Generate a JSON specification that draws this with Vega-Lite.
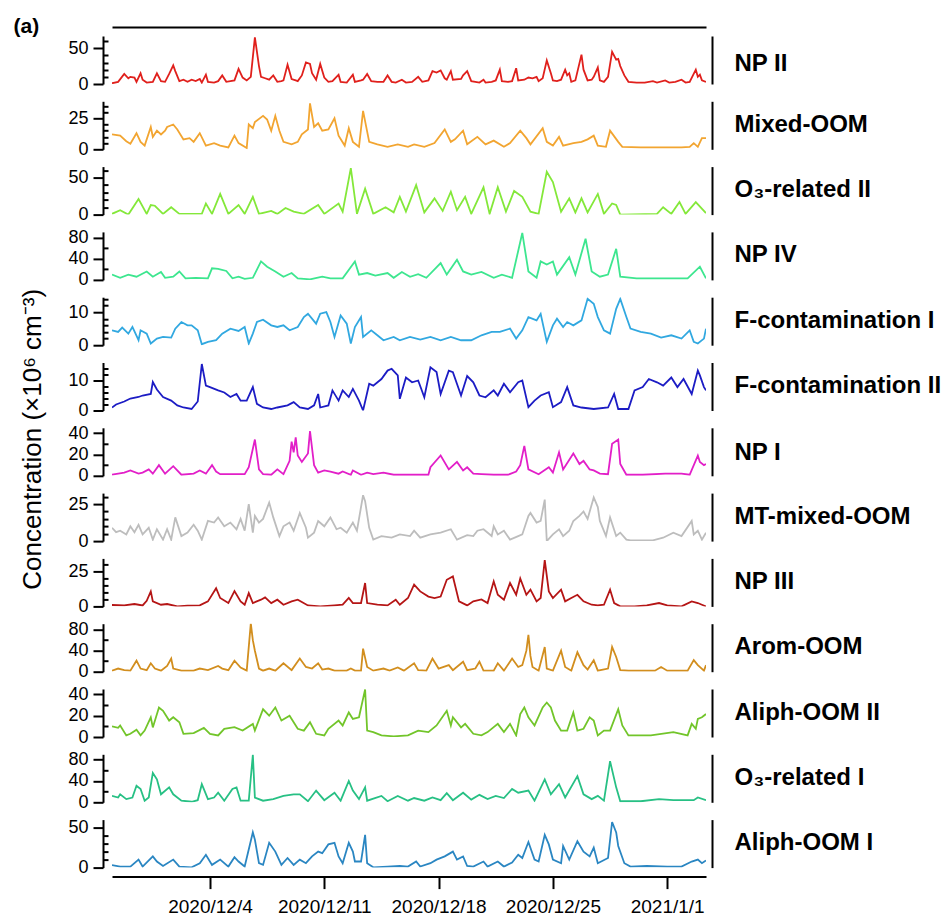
{
"$schema": "https://vega.github.io/schema/vega-lite/v6.json",
"background": "white",
"padding": {"left": 13, "top": 15, "right": 0, "bottom": 0},
"config": {"font": "Liberation Sans", "view": {"stroke": null},
 "axis": {"grid": false, "domainColor": "black", "tickColor": "black", "labelColor": "black", "titleColor": "black", "domainWidth": 2, "tickWidth": 2, "labelFont": "Liberation Sans", "titleFont": "Liberation Sans", "labelOverlap": false, "labelFlush": false}},
"spacing": 17.3,
"bounds": "flush",
"data": {"values": [
{"s":"np2","t":"2020-11-28T00:00","v":1},{"s":"np2","t":"2020-11-28T09:00","v":3},{"s":"np2","t":"2020-11-28T18:00","v":14},{"s":"np2","t":"2020-11-29T00:00","v":8},{"s":"np2","t":"2020-11-29T03:00","v":10},{"s":"np2","t":"2020-11-29T09:00","v":9},{"s":"np2","t":"2020-11-29T12:00","v":3},{"s":"np2","t":"2020-11-29T18:00","v":15},{"s":"np2","t":"2020-11-29T21:00","v":6},{"s":"np2","t":"2020-11-30T03:00","v":2},{"s":"np2","t":"2020-11-30T12:00","v":3},{"s":"np2","t":"2020-11-30T18:00","v":15},{"s":"np2","t":"2020-12-01T00:00","v":4},{"s":"np2","t":"2020-12-01T06:00","v":3},{"s":"np2","t":"2020-12-01T12:00","v":14},{"s":"np2","t":"2020-12-01T18:00","v":26},{"s":"np2","t":"2020-12-01T21:00","v":18},{"s":"np2","t":"2020-12-02T03:00","v":4},{"s":"np2","t":"2020-12-02T09:00","v":6},{"s":"np2","t":"2020-12-02T15:00","v":3},{"s":"np2","t":"2020-12-02T21:00","v":6},{"s":"np2","t":"2020-12-03T03:00","v":4},{"s":"np2","t":"2020-12-03T09:00","v":7},{"s":"np2","t":"2020-12-03T12:00","v":2},{"s":"np2","t":"2020-12-03T18:00","v":13},{"s":"np2","t":"2020-12-03T21:00","v":3},{"s":"np2","t":"2020-12-04T06:00","v":2},{"s":"np2","t":"2020-12-04T12:00","v":4},{"s":"np2","t":"2020-12-04T18:00","v":12},{"s":"np2","t":"2020-12-05T00:00","v":3},{"s":"np2","t":"2020-12-05T06:00","v":4},{"s":"np2","t":"2020-12-05T12:00","v":5},{"s":"np2","t":"2020-12-05T18:00","v":21},{"s":"np2","t":"2020-12-06T00:00","v":9},{"s":"np2","t":"2020-12-06T06:00","v":5},{"s":"np2","t":"2020-12-06T12:00","v":10},{"s":"np2","t":"2020-12-06T18:00","v":65},{"s":"np2","t":"2020-12-07T00:00","v":25},{"s":"np2","t":"2020-12-07T03:00","v":10},{"s":"np2","t":"2020-12-07T09:00","v":8},{"s":"np2","t":"2020-12-07T15:00","v":6},{"s":"np2","t":"2020-12-07T21:00","v":12},{"s":"np2","t":"2020-12-08T03:00","v":3},{"s":"np2","t":"2020-12-08T09:00","v":4},{"s":"np2","t":"2020-12-08T12:00","v":5},{"s":"np2","t":"2020-12-08T18:00","v":27},{"s":"np2","t":"2020-12-09T00:00","v":7},{"s":"np2","t":"2020-12-09T06:00","v":5},{"s":"np2","t":"2020-12-09T09:00","v":4},{"s":"np2","t":"2020-12-09T15:00","v":12},{"s":"np2","t":"2020-12-09T21:00","v":30},{"s":"np2","t":"2020-12-10T03:00","v":28},{"s":"np2","t":"2020-12-10T06:00","v":15},{"s":"np2","t":"2020-12-10T12:00","v":6},{"s":"np2","t":"2020-12-10T18:00","v":28},{"s":"np2","t":"2020-12-11T00:00","v":9},{"s":"np2","t":"2020-12-11T06:00","v":3},{"s":"np2","t":"2020-12-11T12:00","v":4},{"s":"np2","t":"2020-12-11T21:00","v":13},{"s":"np2","t":"2020-12-12T00:00","v":3},{"s":"np2","t":"2020-12-12T09:00","v":2},{"s":"np2","t":"2020-12-12T18:00","v":13},{"s":"np2","t":"2020-12-12T21:00","v":3},{"s":"np2","t":"2020-12-13T06:00","v":5},{"s":"np2","t":"2020-12-13T09:00","v":6},{"s":"np2","t":"2020-12-13T15:00","v":14},{"s":"np2","t":"2020-12-13T21:00","v":4},{"s":"np2","t":"2020-12-14T06:00","v":3},{"s":"np2","t":"2020-12-14T15:00","v":3},{"s":"np2","t":"2020-12-14T21:00","v":12},{"s":"np2","t":"2020-12-15T03:00","v":3},{"s":"np2","t":"2020-12-15T09:00","v":2},{"s":"np2","t":"2020-12-15T18:00","v":6},{"s":"np2","t":"2020-12-16T00:00","v":2},{"s":"np2","t":"2020-12-16T09:00","v":3},{"s":"np2","t":"2020-12-16T18:00","v":10},{"s":"np2","t":"2020-12-17T00:00","v":3},{"s":"np2","t":"2020-12-17T09:00","v":5},{"s":"np2","t":"2020-12-17T15:00","v":18},{"s":"np2","t":"2020-12-17T21:00","v":16},{"s":"np2","t":"2020-12-18T03:00","v":19},{"s":"np2","t":"2020-12-18T09:00","v":8},{"s":"np2","t":"2020-12-18T12:00","v":6},{"s":"np2","t":"2020-12-18T18:00","v":18},{"s":"np2","t":"2020-12-18T21:00","v":6},{"s":"np2","t":"2020-12-19T09:00","v":7},{"s":"np2","t":"2020-12-19T12:00","v":12},{"s":"np2","t":"2020-12-19T18:00","v":18},{"s":"np2","t":"2020-12-20T00:00","v":4},{"s":"np2","t":"2020-12-20T06:00","v":3},{"s":"np2","t":"2020-12-20T12:00","v":2},{"s":"np2","t":"2020-12-20T18:00","v":6},{"s":"np2","t":"2020-12-20T21:00","v":2},{"s":"np2","t":"2020-12-21T06:00","v":3},{"s":"np2","t":"2020-12-21T12:00","v":5},{"s":"np2","t":"2020-12-21T18:00","v":20},{"s":"np2","t":"2020-12-21T21:00","v":4},{"s":"np2","t":"2020-12-22T06:00","v":3},{"s":"np2","t":"2020-12-22T12:00","v":4},{"s":"np2","t":"2020-12-22T18:00","v":22},{"s":"np2","t":"2020-12-22T21:00","v":5},{"s":"np2","t":"2020-12-23T06:00","v":6},{"s":"np2","t":"2020-12-23T12:00","v":9},{"s":"np2","t":"2020-12-23T18:00","v":8},{"s":"np2","t":"2020-12-24T00:00","v":10},{"s":"np2","t":"2020-12-24T03:00","v":4},{"s":"np2","t":"2020-12-24T09:00","v":8},{"s":"np2","t":"2020-12-24T15:00","v":33},{"s":"np2","t":"2020-12-24T21:00","v":15},{"s":"np2","t":"2020-12-25T00:00","v":5},{"s":"np2","t":"2020-12-25T06:00","v":4},{"s":"np2","t":"2020-12-25T12:00","v":6},{"s":"np2","t":"2020-12-25T18:00","v":20},{"s":"np2","t":"2020-12-25T21:00","v":12},{"s":"np2","t":"2020-12-26T00:00","v":15},{"s":"np2","t":"2020-12-26T03:00","v":3},{"s":"np2","t":"2020-12-26T09:00","v":5},{"s":"np2","t":"2020-12-26T18:00","v":41},{"s":"np2","t":"2020-12-26T21:00","v":20},{"s":"np2","t":"2020-12-27T03:00","v":5},{"s":"np2","t":"2020-12-27T09:00","v":6},{"s":"np2","t":"2020-12-27T12:00","v":10},{"s":"np2","t":"2020-12-27T18:00","v":23},{"s":"np2","t":"2020-12-27T21:00","v":5},{"s":"np2","t":"2020-12-28T03:00","v":3},{"s":"np2","t":"2020-12-28T09:00","v":10},{"s":"np2","t":"2020-12-28T15:00","v":45},{"s":"np2","t":"2020-12-28T21:00","v":34},{"s":"np2","t":"2020-12-29T00:00","v":35},{"s":"np2","t":"2020-12-29T03:00","v":25},{"s":"np2","t":"2020-12-29T09:00","v":12},{"s":"np2","t":"2020-12-29T15:00","v":3},{"s":"np2","t":"2020-12-30T03:00","v":2},{"s":"np2","t":"2020-12-30T15:00","v":2},{"s":"np2","t":"2020-12-31T03:00","v":4},{"s":"np2","t":"2020-12-31T09:00","v":2},{"s":"np2","t":"2020-12-31T21:00","v":5},{"s":"np2","t":"2021-01-01T03:00","v":2},{"s":"np2","t":"2021-01-01T12:00","v":3},{"s":"np2","t":"2021-01-01T21:00","v":6},{"s":"np2","t":"2021-01-02T03:00","v":2},{"s":"np2","t":"2021-01-02T09:00","v":3},{"s":"np2","t":"2021-01-02T18:00","v":20},{"s":"np2","t":"2021-01-02T21:00","v":10},{"s":"np2","t":"2021-01-03T00:00","v":13},{"s":"np2","t":"2021-01-03T03:00","v":5},{"s":"np2","t":"2021-01-03T09:00","v":3},
{"s":"mix","t":"2020-11-28T00:00","v":12},{"s":"mix","t":"2020-11-28T12:00","v":11},{"s":"mix","t":"2020-11-28T21:00","v":6.5},{"s":"mix","t":"2020-11-29T03:00","v":4.5},{"s":"mix","t":"2020-11-29T12:00","v":13},{"s":"mix","t":"2020-11-29T18:00","v":6},{"s":"mix","t":"2020-11-30T00:00","v":3},{"s":"mix","t":"2020-11-30T09:00","v":18},{"s":"mix","t":"2020-11-30T12:00","v":10},{"s":"mix","t":"2020-11-30T18:00","v":15},{"s":"mix","t":"2020-12-01T00:00","v":12},{"s":"mix","t":"2020-12-01T06:00","v":15},{"s":"mix","t":"2020-12-01T09:00","v":18},{"s":"mix","t":"2020-12-01T18:00","v":20},{"s":"mix","t":"2020-12-02T00:00","v":16},{"s":"mix","t":"2020-12-02T09:00","v":8},{"s":"mix","t":"2020-12-02T18:00","v":9},{"s":"mix","t":"2020-12-03T00:00","v":6},{"s":"mix","t":"2020-12-03T09:00","v":13},{"s":"mix","t":"2020-12-03T18:00","v":3},{"s":"mix","t":"2020-12-04T06:00","v":5},{"s":"mix","t":"2020-12-04T15:00","v":3},{"s":"mix","t":"2020-12-05T03:00","v":1.5},{"s":"mix","t":"2020-12-05T12:00","v":11},{"s":"mix","t":"2020-12-05T18:00","v":5},{"s":"mix","t":"2020-12-06T06:00","v":1},{"s":"mix","t":"2020-12-06T09:00","v":20},{"s":"mix","t":"2020-12-06T15:00","v":17},{"s":"mix","t":"2020-12-06T18:00","v":22},{"s":"mix","t":"2020-12-07T06:00","v":27},{"s":"mix","t":"2020-12-07T12:00","v":24},{"s":"mix","t":"2020-12-07T18:00","v":15},{"s":"mix","t":"2020-12-08T00:00","v":27},{"s":"mix","t":"2020-12-08T06:00","v":15},{"s":"mix","t":"2020-12-08T12:00","v":6},{"s":"mix","t":"2020-12-09T00:00","v":4},{"s":"mix","t":"2020-12-09T09:00","v":6},{"s":"mix","t":"2020-12-09T15:00","v":12},{"s":"mix","t":"2020-12-10T00:00","v":16},{"s":"mix","t":"2020-12-10T03:00","v":37},{"s":"mix","t":"2020-12-10T09:00","v":18},{"s":"mix","t":"2020-12-10T15:00","v":21},{"s":"mix","t":"2020-12-10T21:00","v":15},{"s":"mix","t":"2020-12-11T06:00","v":16},{"s":"mix","t":"2020-12-11T15:00","v":25},{"s":"mix","t":"2020-12-11T21:00","v":11},{"s":"mix","t":"2020-12-12T06:00","v":3},{"s":"mix","t":"2020-12-12T12:00","v":17},{"s":"mix","t":"2020-12-12T18:00","v":6},{"s":"mix","t":"2020-12-13T03:00","v":2},{"s":"mix","t":"2020-12-13T09:00","v":31},{"s":"mix","t":"2020-12-13T18:00","v":6},{"s":"mix","t":"2020-12-14T06:00","v":4},{"s":"mix","t":"2020-12-14T21:00","v":2},{"s":"mix","t":"2020-12-15T12:00","v":4},{"s":"mix","t":"2020-12-16T03:00","v":2},{"s":"mix","t":"2020-12-16T12:00","v":4},{"s":"mix","t":"2020-12-17T03:00","v":2},{"s":"mix","t":"2020-12-17T18:00","v":5},{"s":"mix","t":"2020-12-18T09:00","v":16},{"s":"mix","t":"2020-12-18T18:00","v":6},{"s":"mix","t":"2020-12-19T00:00","v":8},{"s":"mix","t":"2020-12-19T12:00","v":15},{"s":"mix","t":"2020-12-19T18:00","v":4},{"s":"mix","t":"2020-12-20T09:00","v":10},{"s":"mix","t":"2020-12-20T21:00","v":4},{"s":"mix","t":"2020-12-21T09:00","v":7},{"s":"mix","t":"2020-12-22T00:00","v":2},{"s":"mix","t":"2020-12-22T09:00","v":5},{"s":"mix","t":"2020-12-23T00:00","v":15},{"s":"mix","t":"2020-12-23T09:00","v":9},{"s":"mix","t":"2020-12-23T15:00","v":4},{"s":"mix","t":"2020-12-24T09:00","v":17},{"s":"mix","t":"2020-12-24T15:00","v":6},{"s":"mix","t":"2020-12-25T00:00","v":3},{"s":"mix","t":"2020-12-25T09:00","v":10},{"s":"mix","t":"2020-12-25T15:00","v":3},{"s":"mix","t":"2020-12-26T06:00","v":5},{"s":"mix","t":"2020-12-26T18:00","v":6},{"s":"mix","t":"2020-12-27T03:00","v":8},{"s":"mix","t":"2020-12-27T12:00","v":11},{"s":"mix","t":"2020-12-27T18:00","v":3},{"s":"mix","t":"2020-12-28T06:00","v":2},{"s":"mix","t":"2020-12-28T12:00","v":15},{"s":"mix","t":"2020-12-29T00:00","v":6},{"s":"mix","t":"2020-12-29T06:00","v":2},{"s":"mix","t":"2020-12-30T09:00","v":1.5},{"s":"mix","t":"2020-12-31T15:00","v":1.5},{"s":"mix","t":"2021-01-01T21:00","v":1.5},{"s":"mix","t":"2021-01-02T09:00","v":2},{"s":"mix","t":"2021-01-02T15:00","v":5},{"s":"mix","t":"2021-01-02T21:00","v":2},{"s":"mix","t":"2021-01-03T03:00","v":9},{"s":"mix","t":"2021-01-03T09:00","v":9},
{"s":"o3b","t":"2020-11-28T00:00","v":1},{"s":"o3b","t":"2020-11-28T12:00","v":6},{"s":"o3b","t":"2020-11-29T00:00","v":0},{"s":"o3b","t":"2020-11-29T15:00","v":21},{"s":"o3b","t":"2020-11-30T03:00","v":1},{"s":"o3b","t":"2020-11-30T09:00","v":13},{"s":"o3b","t":"2020-11-30T15:00","v":12},{"s":"o3b","t":"2020-12-01T03:00","v":1},{"s":"o3b","t":"2020-12-01T15:00","v":10},{"s":"o3b","t":"2020-12-02T03:00","v":1},{"s":"o3b","t":"2020-12-03T12:00","v":1},{"s":"o3b","t":"2020-12-03T18:00","v":15},{"s":"o3b","t":"2020-12-04T03:00","v":1},{"s":"o3b","t":"2020-12-04T15:00","v":28},{"s":"o3b","t":"2020-12-05T03:00","v":1},{"s":"o3b","t":"2020-12-05T18:00","v":13},{"s":"o3b","t":"2020-12-06T03:00","v":1},{"s":"o3b","t":"2020-12-06T15:00","v":24},{"s":"o3b","t":"2020-12-07T00:00","v":1},{"s":"o3b","t":"2020-12-07T18:00","v":5},{"s":"o3b","t":"2020-12-08T03:00","v":1},{"s":"o3b","t":"2020-12-08T15:00","v":9},{"s":"o3b","t":"2020-12-09T03:00","v":4},{"s":"o3b","t":"2020-12-09T18:00","v":1},{"s":"o3b","t":"2020-12-10T15:00","v":13},{"s":"o3b","t":"2020-12-11T00:00","v":1},{"s":"o3b","t":"2020-12-11T21:00","v":15},{"s":"o3b","t":"2020-12-12T03:00","v":4},{"s":"o3b","t":"2020-12-12T15:00","v":63},{"s":"o3b","t":"2020-12-13T00:00","v":1},{"s":"o3b","t":"2020-12-13T12:00","v":35},{"s":"o3b","t":"2020-12-14T00:00","v":1},{"s":"o3b","t":"2020-12-14T18:00","v":10},{"s":"o3b","t":"2020-12-15T06:00","v":3},{"s":"o3b","t":"2020-12-15T15:00","v":24},{"s":"o3b","t":"2020-12-16T00:00","v":4},{"s":"o3b","t":"2020-12-16T15:00","v":40},{"s":"o3b","t":"2020-12-17T03:00","v":3},{"s":"o3b","t":"2020-12-17T18:00","v":22},{"s":"o3b","t":"2020-12-18T06:00","v":5},{"s":"o3b","t":"2020-12-18T18:00","v":31},{"s":"o3b","t":"2020-12-19T03:00","v":6},{"s":"o3b","t":"2020-12-19T15:00","v":24},{"s":"o3b","t":"2020-12-20T00:00","v":1},{"s":"o3b","t":"2020-12-20T18:00","v":37},{"s":"o3b","t":"2020-12-21T03:00","v":1},{"s":"o3b","t":"2020-12-21T15:00","v":37},{"s":"o3b","t":"2020-12-22T03:00","v":4},{"s":"o3b","t":"2020-12-22T15:00","v":32},{"s":"o3b","t":"2020-12-23T03:00","v":24},{"s":"o3b","t":"2020-12-23T15:00","v":4},{"s":"o3b","t":"2020-12-24T03:00","v":1},{"s":"o3b","t":"2020-12-24T15:00","v":58},{"s":"o3b","t":"2020-12-25T00:00","v":44},{"s":"o3b","t":"2020-12-25T12:00","v":4},{"s":"o3b","t":"2020-12-26T00:00","v":22},{"s":"o3b","t":"2020-12-26T09:00","v":3},{"s":"o3b","t":"2020-12-26T18:00","v":22},{"s":"o3b","t":"2020-12-27T03:00","v":3},{"s":"o3b","t":"2020-12-27T18:00","v":28},{"s":"o3b","t":"2020-12-28T03:00","v":1},{"s":"o3b","t":"2020-12-28T15:00","v":15},{"s":"o3b","t":"2020-12-28T21:00","v":13},{"s":"o3b","t":"2020-12-29T03:00","v":0},{"s":"o3b","t":"2020-12-31T09:00","v":1},{"s":"o3b","t":"2020-12-31T18:00","v":10},{"s":"o3b","t":"2021-01-01T06:00","v":1},{"s":"o3b","t":"2021-01-01T18:00","v":17},{"s":"o3b","t":"2021-01-02T03:00","v":1},{"s":"o3b","t":"2021-01-02T18:00","v":17},{"s":"o3b","t":"2021-01-03T09:00","v":2},
{"s":"np4","t":"2020-11-28T00:00","v":10},{"s":"np4","t":"2020-11-28T12:00","v":4},{"s":"np4","t":"2020-11-29T00:00","v":10},{"s":"np4","t":"2020-11-29T12:00","v":6},{"s":"np4","t":"2020-11-30T03:00","v":16},{"s":"np4","t":"2020-11-30T12:00","v":6},{"s":"np4","t":"2020-12-01T00:00","v":15},{"s":"np4","t":"2020-12-01T06:00","v":4},{"s":"np4","t":"2020-12-01T18:00","v":6},{"s":"np4","t":"2020-12-02T03:00","v":16},{"s":"np4","t":"2020-12-02T12:00","v":3},{"s":"np4","t":"2020-12-03T03:00","v":4},{"s":"np4","t":"2020-12-03T21:00","v":3},{"s":"np4","t":"2020-12-04T03:00","v":22},{"s":"np4","t":"2020-12-04T12:00","v":21},{"s":"np4","t":"2020-12-05T00:00","v":17},{"s":"np4","t":"2020-12-05T09:00","v":3},{"s":"np4","t":"2020-12-05T18:00","v":6},{"s":"np4","t":"2020-12-06T03:00","v":2},{"s":"np4","t":"2020-12-06T15:00","v":4},{"s":"np4","t":"2020-12-07T03:00","v":35},{"s":"np4","t":"2020-12-07T12:00","v":25},{"s":"np4","t":"2020-12-08T00:00","v":16},{"s":"np4","t":"2020-12-08T12:00","v":6},{"s":"np4","t":"2020-12-09T00:00","v":13},{"s":"np4","t":"2020-12-09T09:00","v":3},{"s":"np4","t":"2020-12-10T03:00","v":1},{"s":"np4","t":"2020-12-10T21:00","v":6},{"s":"np4","t":"2020-12-11T09:00","v":3},{"s":"np4","t":"2020-12-12T03:00","v":3},{"s":"np4","t":"2020-12-12T21:00","v":35},{"s":"np4","t":"2020-12-13T03:00","v":10},{"s":"np4","t":"2020-12-13T15:00","v":13},{"s":"np4","t":"2020-12-14T03:00","v":8},{"s":"np4","t":"2020-12-14T21:00","v":13},{"s":"np4","t":"2020-12-15T06:00","v":4},{"s":"np4","t":"2020-12-15T18:00","v":15},{"s":"np4","t":"2020-12-16T06:00","v":6},{"s":"np4","t":"2020-12-16T18:00","v":11},{"s":"np4","t":"2020-12-17T06:00","v":4},{"s":"np4","t":"2020-12-18T03:00","v":32},{"s":"np4","t":"2020-12-18T12:00","v":10},{"s":"np4","t":"2020-12-19T03:00","v":38},{"s":"np4","t":"2020-12-19T12:00","v":16},{"s":"np4","t":"2020-12-20T00:00","v":10},{"s":"np4","t":"2020-12-20T15:00","v":15},{"s":"np4","t":"2020-12-21T09:00","v":4},{"s":"np4","t":"2020-12-21T21:00","v":10},{"s":"np4","t":"2020-12-22T12:00","v":4},{"s":"np4","t":"2020-12-23T03:00","v":89},{"s":"np4","t":"2020-12-23T12:00","v":16},{"s":"np4","t":"2020-12-24T00:00","v":4},{"s":"np4","t":"2020-12-24T06:00","v":35},{"s":"np4","t":"2020-12-24T15:00","v":29},{"s":"np4","t":"2020-12-25T00:00","v":35},{"s":"np4","t":"2020-12-25T06:00","v":10},{"s":"np4","t":"2020-12-26T00:00","v":43},{"s":"np4","t":"2020-12-26T09:00","v":10},{"s":"np4","t":"2020-12-27T00:00","v":78},{"s":"np4","t":"2020-12-27T09:00","v":16},{"s":"np4","t":"2020-12-27T21:00","v":6},{"s":"np4","t":"2020-12-28T09:00","v":10},{"s":"np4","t":"2020-12-28T21:00","v":59},{"s":"np4","t":"2020-12-29T03:00","v":6},{"s":"np4","t":"2020-12-30T03:00","v":3},{"s":"np4","t":"2020-12-31T15:00","v":3},{"s":"np4","t":"2021-01-02T06:00","v":3},{"s":"np4","t":"2021-01-03T00:00","v":25},{"s":"np4","t":"2021-01-03T09:00","v":3},
{"s":"fc1","t":"2020-11-28T00:00","v":4.5},{"s":"fc1","t":"2020-11-28T09:00","v":4},{"s":"fc1","t":"2020-11-28T15:00","v":5.3},{"s":"fc1","t":"2020-11-29T00:00","v":3.5},{"s":"fc1","t":"2020-11-29T06:00","v":5.5},{"s":"fc1","t":"2020-11-29T15:00","v":1.5},{"s":"fc1","t":"2020-11-29T18:00","v":4.5},{"s":"fc1","t":"2020-11-30T03:00","v":3.5},{"s":"fc1","t":"2020-11-30T09:00","v":0.5},{"s":"fc1","t":"2020-11-30T18:00","v":2},{"s":"fc1","t":"2020-12-01T03:00","v":2.5},{"s":"fc1","t":"2020-12-01T15:00","v":2.3},{"s":"fc1","t":"2020-12-01T21:00","v":5},{"s":"fc1","t":"2020-12-02T06:00","v":7},{"s":"fc1","t":"2020-12-02T15:00","v":6},{"s":"fc1","t":"2020-12-02T21:00","v":6},{"s":"fc1","t":"2020-12-03T06:00","v":4.5},{"s":"fc1","t":"2020-12-03T12:00","v":0.3},{"s":"fc1","t":"2020-12-03T21:00","v":1},{"s":"fc1","t":"2020-12-04T09:00","v":1.5},{"s":"fc1","t":"2020-12-04T18:00","v":3.5},{"s":"fc1","t":"2020-12-05T06:00","v":5},{"s":"fc1","t":"2020-12-05T18:00","v":4.3},{"s":"fc1","t":"2020-12-06T03:00","v":5.5},{"s":"fc1","t":"2020-12-06T09:00","v":0.5},{"s":"fc1","t":"2020-12-06T15:00","v":3.5},{"s":"fc1","t":"2020-12-06T21:00","v":7},{"s":"fc1","t":"2020-12-07T06:00","v":7.7},{"s":"fc1","t":"2020-12-07T18:00","v":6},{"s":"fc1","t":"2020-12-08T03:00","v":5.5},{"s":"fc1","t":"2020-12-08T12:00","v":6},{"s":"fc1","t":"2020-12-08T21:00","v":4.5},{"s":"fc1","t":"2020-12-09T09:00","v":5.5},{"s":"fc1","t":"2020-12-09T18:00","v":8.5},{"s":"fc1","t":"2020-12-10T00:00","v":9.5},{"s":"fc1","t":"2020-12-10T12:00","v":6.5},{"s":"fc1","t":"2020-12-10T18:00","v":9.5},{"s":"fc1","t":"2020-12-11T03:00","v":10},{"s":"fc1","t":"2020-12-11T09:00","v":7},{"s":"fc1","t":"2020-12-11T15:00","v":2.5},{"s":"fc1","t":"2020-12-12T00:00","v":9},{"s":"fc1","t":"2020-12-12T09:00","v":6.5},{"s":"fc1","t":"2020-12-12T15:00","v":0.5},{"s":"fc1","t":"2020-12-12T21:00","v":5.5},{"s":"fc1","t":"2020-12-13T06:00","v":8.5},{"s":"fc1","t":"2020-12-13T09:00","v":2.5},{"s":"fc1","t":"2020-12-13T21:00","v":4.5},{"s":"fc1","t":"2020-12-14T06:00","v":3},{"s":"fc1","t":"2020-12-14T15:00","v":1.5},{"s":"fc1","t":"2020-12-15T06:00","v":2.5},{"s":"fc1","t":"2020-12-15T15:00","v":1.5},{"s":"fc1","t":"2020-12-16T06:00","v":2.5},{"s":"fc1","t":"2020-12-16T21:00","v":1.7},{"s":"fc1","t":"2020-12-17T12:00","v":2.5},{"s":"fc1","t":"2020-12-18T03:00","v":1.5},{"s":"fc1","t":"2020-12-18T18:00","v":2.5},{"s":"fc1","t":"2020-12-19T09:00","v":1.5},{"s":"fc1","t":"2020-12-20T00:00","v":1.5},{"s":"fc1","t":"2020-12-20T15:00","v":3},{"s":"fc1","t":"2020-12-21T06:00","v":4},{"s":"fc1","t":"2020-12-21T18:00","v":4},{"s":"fc1","t":"2020-12-22T09:00","v":5},{"s":"fc1","t":"2020-12-22T18:00","v":2},{"s":"fc1","t":"2020-12-23T03:00","v":4.5},{"s":"fc1","t":"2020-12-23T12:00","v":8.5},{"s":"fc1","t":"2020-12-24T00:00","v":7.5},{"s":"fc1","t":"2020-12-24T06:00","v":9.5},{"s":"fc1","t":"2020-12-24T15:00","v":1},{"s":"fc1","t":"2020-12-25T00:00","v":6},{"s":"fc1","t":"2020-12-25T06:00","v":8},{"s":"fc1","t":"2020-12-25T15:00","v":5.5},{"s":"fc1","t":"2020-12-25T21:00","v":7},{"s":"fc1","t":"2020-12-26T06:00","v":6},{"s":"fc1","t":"2020-12-26T18:00","v":7.5},{"s":"fc1","t":"2020-12-27T03:00","v":14},{"s":"fc1","t":"2020-12-27T12:00","v":12.5},{"s":"fc1","t":"2020-12-27T18:00","v":8.5},{"s":"fc1","t":"2020-12-28T03:00","v":4.5},{"s":"fc1","t":"2020-12-28T12:00","v":3.5},{"s":"fc1","t":"2020-12-28T21:00","v":11},{"s":"fc1","t":"2020-12-29T03:00","v":14},{"s":"fc1","t":"2020-12-29T12:00","v":8.5},{"s":"fc1","t":"2020-12-29T18:00","v":5},{"s":"fc1","t":"2020-12-30T09:00","v":4},{"s":"fc1","t":"2020-12-31T00:00","v":3.5},{"s":"fc1","t":"2020-12-31T15:00","v":2.3},{"s":"fc1","t":"2021-01-01T06:00","v":3},{"s":"fc1","t":"2021-01-01T21:00","v":2},{"s":"fc1","t":"2021-01-02T09:00","v":4.5},{"s":"fc1","t":"2021-01-02T15:00","v":1},{"s":"fc1","t":"2021-01-02T21:00","v":0.5},{"s":"fc1","t":"2021-01-03T06:00","v":2},{"s":"fc1","t":"2021-01-03T09:00","v":5},
{"s":"fc2","t":"2020-11-28T00:00","v":1},{"s":"fc2","t":"2020-11-28T06:00","v":2},{"s":"fc2","t":"2020-11-28T18:00","v":3},{"s":"fc2","t":"2020-11-29T03:00","v":4},{"s":"fc2","t":"2020-11-29T15:00","v":4.5},{"s":"fc2","t":"2020-11-29T21:00","v":5},{"s":"fc2","t":"2020-11-30T09:00","v":5.5},{"s":"fc2","t":"2020-11-30T12:00","v":9.5},{"s":"fc2","t":"2020-11-30T18:00","v":7},{"s":"fc2","t":"2020-12-01T03:00","v":4.5},{"s":"fc2","t":"2020-12-01T15:00","v":3.3},{"s":"fc2","t":"2020-12-02T00:00","v":1.7},{"s":"fc2","t":"2020-12-02T09:00","v":1},{"s":"fc2","t":"2020-12-02T21:00","v":0.5},{"s":"fc2","t":"2020-12-03T06:00","v":3},{"s":"fc2","t":"2020-12-03T12:00","v":15.5},{"s":"fc2","t":"2020-12-03T18:00","v":8.3},{"s":"fc2","t":"2020-12-04T00:00","v":7.8},{"s":"fc2","t":"2020-12-04T12:00","v":6.7},{"s":"fc2","t":"2020-12-04T21:00","v":6},{"s":"fc2","t":"2020-12-05T06:00","v":4.5},{"s":"fc2","t":"2020-12-05T15:00","v":5.5},{"s":"fc2","t":"2020-12-05T21:00","v":3.3},{"s":"fc2","t":"2020-12-06T06:00","v":3.3},{"s":"fc2","t":"2020-12-06T15:00","v":7.8},{"s":"fc2","t":"2020-12-06T21:00","v":2.2},{"s":"fc2","t":"2020-12-07T06:00","v":1},{"s":"fc2","t":"2020-12-07T18:00","v":0.5},{"s":"fc2","t":"2020-12-08T03:00","v":1},{"s":"fc2","t":"2020-12-08T18:00","v":1.7},{"s":"fc2","t":"2020-12-09T03:00","v":2.8},{"s":"fc2","t":"2020-12-09T12:00","v":1},{"s":"fc2","t":"2020-12-10T00:00","v":0.5},{"s":"fc2","t":"2020-12-10T09:00","v":1.7},{"s":"fc2","t":"2020-12-10T15:00","v":5.5},{"s":"fc2","t":"2020-12-10T18:00","v":1},{"s":"fc2","t":"2020-12-11T06:00","v":1.7},{"s":"fc2","t":"2020-12-11T12:00","v":6.7},{"s":"fc2","t":"2020-12-11T21:00","v":3.3},{"s":"fc2","t":"2020-12-12T03:00","v":6.7},{"s":"fc2","t":"2020-12-12T12:00","v":4.5},{"s":"fc2","t":"2020-12-12T18:00","v":7.2},{"s":"fc2","t":"2020-12-13T03:00","v":3.3},{"s":"fc2","t":"2020-12-13T09:00","v":0},{"s":"fc2","t":"2020-12-13T18:00","v":8.9},{"s":"fc2","t":"2020-12-14T00:00","v":8.3},{"s":"fc2","t":"2020-12-14T12:00","v":10.5},{"s":"fc2","t":"2020-12-14T21:00","v":13.3},{"s":"fc2","t":"2020-12-15T03:00","v":13.9},{"s":"fc2","t":"2020-12-15T12:00","v":11.7},{"s":"fc2","t":"2020-12-15T15:00","v":3.9},{"s":"fc2","t":"2020-12-16T00:00","v":11},{"s":"fc2","t":"2020-12-16T09:00","v":9.4},{"s":"fc2","t":"2020-12-16T18:00","v":10},{"s":"fc2","t":"2020-12-17T03:00","v":4.4},{"s":"fc2","t":"2020-12-17T12:00","v":14.4},{"s":"fc2","t":"2020-12-17T21:00","v":12.8},{"s":"fc2","t":"2020-12-18T03:00","v":5.5},{"s":"fc2","t":"2020-12-18T15:00","v":13.3},{"s":"fc2","t":"2020-12-18T21:00","v":12.8},{"s":"fc2","t":"2020-12-19T09:00","v":5},{"s":"fc2","t":"2020-12-19T18:00","v":11.5},{"s":"fc2","t":"2020-12-20T03:00","v":9.4},{"s":"fc2","t":"2020-12-20T12:00","v":5},{"s":"fc2","t":"2020-12-20T21:00","v":4.4},{"s":"fc2","t":"2020-12-21T09:00","v":6.7},{"s":"fc2","t":"2020-12-21T15:00","v":5},{"s":"fc2","t":"2020-12-22T00:00","v":8.9},{"s":"fc2","t":"2020-12-22T09:00","v":6.1},{"s":"fc2","t":"2020-12-22T21:00","v":9.4},{"s":"fc2","t":"2020-12-23T03:00","v":10},{"s":"fc2","t":"2020-12-23T12:00","v":1.1},{"s":"fc2","t":"2020-12-23T21:00","v":3.3},{"s":"fc2","t":"2020-12-24T06:00","v":5},{"s":"fc2","t":"2020-12-24T18:00","v":6.1},{"s":"fc2","t":"2020-12-25T00:00","v":1.1},{"s":"fc2","t":"2020-12-25T12:00","v":2.8},{"s":"fc2","t":"2020-12-25T21:00","v":7.8},{"s":"fc2","t":"2020-12-26T06:00","v":1.7},{"s":"fc2","t":"2020-12-26T18:00","v":1},{"s":"fc2","t":"2020-12-27T12:00","v":0.5},{"s":"fc2","t":"2020-12-28T09:00","v":1},{"s":"fc2","t":"2020-12-28T18:00","v":5.5},{"s":"fc2","t":"2020-12-29T00:00","v":0.5},{"s":"fc2","t":"2020-12-29T15:00","v":0.5},{"s":"fc2","t":"2020-12-30T00:00","v":6.7},{"s":"fc2","t":"2020-12-30T12:00","v":7.8},{"s":"fc2","t":"2020-12-30T21:00","v":10.5},{"s":"fc2","t":"2020-12-31T09:00","v":9.4},{"s":"fc2","t":"2020-12-31T18:00","v":8.3},{"s":"fc2","t":"2021-01-01T06:00","v":11},{"s":"fc2","t":"2021-01-01T15:00","v":7.8},{"s":"fc2","t":"2021-01-02T00:00","v":10.5},{"s":"fc2","t":"2021-01-02T12:00","v":5.5},{"s":"fc2","t":"2021-01-02T21:00","v":13.3},{"s":"fc2","t":"2021-01-03T00:00","v":11.7},{"s":"fc2","t":"2021-01-03T06:00","v":7.8},{"s":"fc2","t":"2021-01-03T09:00","v":6.7},
{"s":"np1","t":"2020-11-28T00:00","v":1},{"s":"np1","t":"2020-11-28T18:00","v":3},{"s":"np1","t":"2020-11-29T03:00","v":5},{"s":"np1","t":"2020-11-29T15:00","v":2},{"s":"np1","t":"2020-11-29T21:00","v":3},{"s":"np1","t":"2020-11-30T06:00","v":6},{"s":"np1","t":"2020-11-30T12:00","v":2},{"s":"np1","t":"2020-11-30T21:00","v":10},{"s":"np1","t":"2020-12-01T06:00","v":2},{"s":"np1","t":"2020-12-01T18:00","v":9},{"s":"np1","t":"2020-12-02T06:00","v":1},{"s":"np1","t":"2020-12-03T00:00","v":2},{"s":"np1","t":"2020-12-03T09:00","v":5},{"s":"np1","t":"2020-12-03T18:00","v":2},{"s":"np1","t":"2020-12-04T03:00","v":10},{"s":"np1","t":"2020-12-04T09:00","v":4},{"s":"np1","t":"2020-12-04T15:00","v":1.5},{"s":"np1","t":"2020-12-06T03:00","v":1.5},{"s":"np1","t":"2020-12-06T09:00","v":8},{"s":"np1","t":"2020-12-06T18:00","v":34},{"s":"np1","t":"2020-12-07T00:00","v":6},{"s":"np1","t":"2020-12-07T06:00","v":1.5},{"s":"np1","t":"2020-12-07T18:00","v":1},{"s":"np1","t":"2020-12-08T03:00","v":6},{"s":"np1","t":"2020-12-08T12:00","v":1.5},{"s":"np1","t":"2020-12-08T21:00","v":14},{"s":"np1","t":"2020-12-09T00:00","v":32},{"s":"np1","t":"2020-12-09T03:00","v":22},{"s":"np1","t":"2020-12-09T06:00","v":36},{"s":"np1","t":"2020-12-09T09:00","v":19},{"s":"np1","t":"2020-12-09T15:00","v":13},{"s":"np1","t":"2020-12-10T00:00","v":21},{"s":"np1","t":"2020-12-10T03:00","v":42},{"s":"np1","t":"2020-12-10T09:00","v":10},{"s":"np1","t":"2020-12-10T15:00","v":3},{"s":"np1","t":"2020-12-11T00:00","v":5},{"s":"np1","t":"2020-12-11T09:00","v":4},{"s":"np1","t":"2020-12-11T21:00","v":2},{"s":"np1","t":"2020-12-12T03:00","v":4},{"s":"np1","t":"2020-12-12T15:00","v":1},{"s":"np1","t":"2020-12-12T18:00","v":5},{"s":"np1","t":"2020-12-13T06:00","v":1},{"s":"np1","t":"2020-12-13T15:00","v":3},{"s":"np1","t":"2020-12-14T00:00","v":1.5},{"s":"np1","t":"2020-12-14T15:00","v":3},{"s":"np1","t":"2020-12-15T06:00","v":1},{"s":"np1","t":"2020-12-17T09:00","v":1},{"s":"np1","t":"2020-12-17T12:00","v":8},{"s":"np1","t":"2020-12-18T03:00","v":19},{"s":"np1","t":"2020-12-18T15:00","v":6},{"s":"np1","t":"2020-12-19T03:00","v":13},{"s":"np1","t":"2020-12-19T12:00","v":5},{"s":"np1","t":"2020-12-19T18:00","v":8},{"s":"np1","t":"2020-12-20T03:00","v":2},{"s":"np1","t":"2020-12-20T15:00","v":1.5},{"s":"np1","t":"2020-12-21T09:00","v":1},{"s":"np1","t":"2020-12-22T06:00","v":1},{"s":"np1","t":"2020-12-22T18:00","v":4},{"s":"np1","t":"2020-12-23T00:00","v":10},{"s":"np1","t":"2020-12-23T06:00","v":28},{"s":"np1","t":"2020-12-23T12:00","v":6},{"s":"np1","t":"2020-12-24T03:00","v":1.5},{"s":"np1","t":"2020-12-24T18:00","v":8},{"s":"np1","t":"2020-12-25T00:00","v":3},{"s":"np1","t":"2020-12-25T09:00","v":22},{"s":"np1","t":"2020-12-25T15:00","v":6},{"s":"np1","t":"2020-12-26T06:00","v":21},{"s":"np1","t":"2020-12-26T15:00","v":11},{"s":"np1","t":"2020-12-26T21:00","v":14},{"s":"np1","t":"2020-12-27T06:00","v":6},{"s":"np1","t":"2020-12-27T12:00","v":5},{"s":"np1","t":"2020-12-27T21:00","v":2},{"s":"np1","t":"2020-12-28T09:00","v":1.5},{"s":"np1","t":"2020-12-28T15:00","v":30},{"s":"np1","t":"2020-12-29T00:00","v":34},{"s":"np1","t":"2020-12-29T03:00","v":11},{"s":"np1","t":"2020-12-29T12:00","v":1},{"s":"np1","t":"2020-12-30T12:00","v":1},{"s":"np1","t":"2020-12-31T21:00","v":2},{"s":"np1","t":"2021-01-01T21:00","v":2},{"s":"np1","t":"2021-01-02T09:00","v":1},{"s":"np1","t":"2021-01-02T21:00","v":19},{"s":"np1","t":"2021-01-03T00:00","v":13},{"s":"np1","t":"2021-01-03T06:00","v":10},{"s":"np1","t":"2021-01-03T09:00","v":11},
{"s":"mt","t":"2020-11-28T00:00","v":9},{"s":"mt","t":"2020-11-28T06:00","v":6},{"s":"mt","t":"2020-11-28T12:00","v":7},{"s":"mt","t":"2020-11-28T21:00","v":4.5},{"s":"mt","t":"2020-11-29T03:00","v":10},{"s":"mt","t":"2020-11-29T09:00","v":6},{"s":"mt","t":"2020-11-29T15:00","v":11},{"s":"mt","t":"2020-11-29T21:00","v":4.5},{"s":"mt","t":"2020-11-30T06:00","v":9},{"s":"mt","t":"2020-11-30T12:00","v":1},{"s":"mt","t":"2020-11-30T18:00","v":8},{"s":"mt","t":"2020-12-01T03:00","v":1},{"s":"mt","t":"2020-12-01T09:00","v":8},{"s":"mt","t":"2020-12-01T15:00","v":1},{"s":"mt","t":"2020-12-01T21:00","v":16},{"s":"mt","t":"2020-12-02T06:00","v":3.4},{"s":"mt","t":"2020-12-02T15:00","v":5.7},{"s":"mt","t":"2020-12-03T00:00","v":11},{"s":"mt","t":"2020-12-03T06:00","v":7},{"s":"mt","t":"2020-12-03T12:00","v":1},{"s":"mt","t":"2020-12-03T21:00","v":13.6},{"s":"mt","t":"2020-12-04T06:00","v":12.5},{"s":"mt","t":"2020-12-04T12:00","v":16},{"s":"mt","t":"2020-12-04T21:00","v":10},{"s":"mt","t":"2020-12-05T06:00","v":12.5},{"s":"mt","t":"2020-12-05T15:00","v":8},{"s":"mt","t":"2020-12-05T21:00","v":15},{"s":"mt","t":"2020-12-06T03:00","v":7},{"s":"mt","t":"2020-12-06T09:00","v":25},{"s":"mt","t":"2020-12-06T15:00","v":5.7},{"s":"mt","t":"2020-12-06T18:00","v":17},{"s":"mt","t":"2020-12-07T00:00","v":12.5},{"s":"mt","t":"2020-12-07T06:00","v":15},{"s":"mt","t":"2020-12-07T15:00","v":26},{"s":"mt","t":"2020-12-07T21:00","v":16},{"s":"mt","t":"2020-12-08T06:00","v":3.4},{"s":"mt","t":"2020-12-08T12:00","v":10},{"s":"mt","t":"2020-12-08T21:00","v":12.5},{"s":"mt","t":"2020-12-09T03:00","v":7},{"s":"mt","t":"2020-12-09T12:00","v":19},{"s":"mt","t":"2020-12-09T21:00","v":9},{"s":"mt","t":"2020-12-10T00:00","v":2.3},{"s":"mt","t":"2020-12-10T09:00","v":5.7},{"s":"mt","t":"2020-12-10T15:00","v":13.6},{"s":"mt","t":"2020-12-11T00:00","v":10},{"s":"mt","t":"2020-12-11T09:00","v":16},{"s":"mt","t":"2020-12-11T18:00","v":8},{"s":"mt","t":"2020-12-12T00:00","v":9},{"s":"mt","t":"2020-12-12T09:00","v":5.7},{"s":"mt","t":"2020-12-12T18:00","v":12.5},{"s":"mt","t":"2020-12-13T00:00","v":7},{"s":"mt","t":"2020-12-13T09:00","v":31},{"s":"mt","t":"2020-12-13T12:00","v":27},{"s":"mt","t":"2020-12-13T18:00","v":9},{"s":"mt","t":"2020-12-14T00:00","v":1},{"s":"mt","t":"2020-12-14T12:00","v":3.4},{"s":"mt","t":"2020-12-15T03:00","v":2.3},{"s":"mt","t":"2020-12-15T15:00","v":4.5},{"s":"mt","t":"2020-12-16T06:00","v":3.4},{"s":"mt","t":"2020-12-16T12:00","v":7},{"s":"mt","t":"2020-12-16T21:00","v":2.3},{"s":"mt","t":"2020-12-17T12:00","v":4.5},{"s":"mt","t":"2020-12-18T03:00","v":5.7},{"s":"mt","t":"2020-12-18T18:00","v":8},{"s":"mt","t":"2020-12-19T03:00","v":1},{"s":"mt","t":"2020-12-19T18:00","v":4},{"s":"mt","t":"2020-12-20T03:00","v":3.4},{"s":"mt","t":"2020-12-20T09:00","v":7},{"s":"mt","t":"2020-12-20T18:00","v":8},{"s":"mt","t":"2020-12-21T06:00","v":3.4},{"s":"mt","t":"2020-12-21T09:00","v":10},{"s":"mt","t":"2020-12-21T15:00","v":4.5},{"s":"mt","t":"2020-12-22T00:00","v":7},{"s":"mt","t":"2020-12-22T09:00","v":1},{"s":"mt","t":"2020-12-22T21:00","v":3.4},{"s":"mt","t":"2020-12-23T03:00","v":4.5},{"s":"mt","t":"2020-12-23T12:00","v":17},{"s":"mt","t":"2020-12-23T15:00","v":19},{"s":"mt","t":"2020-12-24T00:00","v":12.5},{"s":"mt","t":"2020-12-24T06:00","v":13.6},{"s":"mt","t":"2020-12-24T12:00","v":28},{"s":"mt","t":"2020-12-24T15:00","v":0},{"s":"mt","t":"2020-12-25T00:00","v":4.5},{"s":"mt","t":"2020-12-25T09:00","v":8},{"s":"mt","t":"2020-12-25T15:00","v":3.4},{"s":"mt","t":"2020-12-26T00:00","v":7},{"s":"mt","t":"2020-12-26T06:00","v":13.6},{"s":"mt","t":"2020-12-26T15:00","v":17},{"s":"mt","t":"2020-12-26T21:00","v":20},{"s":"mt","t":"2020-12-27T03:00","v":15},{"s":"mt","t":"2020-12-27T12:00","v":29.5},{"s":"mt","t":"2020-12-27T18:00","v":23},{"s":"mt","t":"2020-12-27T21:00","v":13.6},{"s":"mt","t":"2020-12-28T06:00","v":3.4},{"s":"mt","t":"2020-12-28T12:00","v":16},{"s":"mt","t":"2020-12-28T21:00","v":3.4},{"s":"mt","t":"2020-12-29T03:00","v":5.7},{"s":"mt","t":"2020-12-29T12:00","v":1},{"s":"mt","t":"2020-12-29T18:00","v":0.5},{"s":"mt","t":"2020-12-31T03:00","v":0.5},{"s":"mt","t":"2020-12-31T18:00","v":2.3},{"s":"mt","t":"2021-01-01T09:00","v":5.7},{"s":"mt","t":"2021-01-01T21:00","v":3.4},{"s":"mt","t":"2021-01-02T12:00","v":13.6},{"s":"mt","t":"2021-01-02T15:00","v":4.5},{"s":"mt","t":"2021-01-02T21:00","v":7},{"s":"mt","t":"2021-01-03T03:00","v":1},{"s":"mt","t":"2021-01-03T09:00","v":5.7},
{"s":"np3","t":"2020-11-28T00:00","v":1},{"s":"np3","t":"2020-11-28T18:00","v":0.7},{"s":"np3","t":"2020-11-29T09:00","v":1.7},{"s":"np3","t":"2020-11-29T21:00","v":0.7},{"s":"np3","t":"2020-11-30T03:00","v":4},{"s":"np3","t":"2020-11-30T09:00","v":10.7},{"s":"np3","t":"2020-11-30T12:00","v":3.6},{"s":"np3","t":"2020-12-01T00:00","v":1.2},{"s":"np3","t":"2020-12-01T09:00","v":1.7},{"s":"np3","t":"2020-12-02T00:00","v":0},{"s":"np3","t":"2020-12-02T15:00","v":0.5},{"s":"np3","t":"2020-12-03T09:00","v":0.7},{"s":"np3","t":"2020-12-03T21:00","v":3.6},{"s":"np3","t":"2020-12-04T09:00","v":13},{"s":"np3","t":"2020-12-04T15:00","v":6},{"s":"np3","t":"2020-12-05T03:00","v":2.4},{"s":"np3","t":"2020-12-05T12:00","v":11},{"s":"np3","t":"2020-12-05T21:00","v":3.6},{"s":"np3","t":"2020-12-06T03:00","v":1.2},{"s":"np3","t":"2020-12-06T09:00","v":9.5},{"s":"np3","t":"2020-12-06T15:00","v":2.4},{"s":"np3","t":"2020-12-07T03:00","v":4.8},{"s":"np3","t":"2020-12-07T09:00","v":6.4},{"s":"np3","t":"2020-12-07T18:00","v":2.4},{"s":"np3","t":"2020-12-08T03:00","v":4.8},{"s":"np3","t":"2020-12-08T12:00","v":1.2},{"s":"np3","t":"2020-12-09T00:00","v":3.6},{"s":"np3","t":"2020-12-09T09:00","v":4.8},{"s":"np3","t":"2020-12-10T00:00","v":0.7},{"s":"np3","t":"2020-12-10T18:00","v":0},{"s":"np3","t":"2020-12-11T15:00","v":0.7},{"s":"np3","t":"2020-12-12T03:00","v":1.2},{"s":"np3","t":"2020-12-12T12:00","v":6},{"s":"np3","t":"2020-12-12T18:00","v":2.4},{"s":"np3","t":"2020-12-13T06:00","v":2.4},{"s":"np3","t":"2020-12-13T12:00","v":16.7},{"s":"np3","t":"2020-12-13T15:00","v":2.4},{"s":"np3","t":"2020-12-14T06:00","v":1.2},{"s":"np3","t":"2020-12-14T21:00","v":0.7},{"s":"np3","t":"2020-12-15T09:00","v":4.8},{"s":"np3","t":"2020-12-15T15:00","v":1.2},{"s":"np3","t":"2020-12-16T03:00","v":6},{"s":"np3","t":"2020-12-16T12:00","v":15.5},{"s":"np3","t":"2020-12-16T21:00","v":10.7},{"s":"np3","t":"2020-12-17T09:00","v":7},{"s":"np3","t":"2020-12-17T18:00","v":6},{"s":"np3","t":"2020-12-18T03:00","v":7},{"s":"np3","t":"2020-12-18T12:00","v":19},{"s":"np3","t":"2020-12-18T21:00","v":21.4},{"s":"np3","t":"2020-12-19T06:00","v":3.6},{"s":"np3","t":"2020-12-19T18:00","v":0.7},{"s":"np3","t":"2020-12-20T03:00","v":3.6},{"s":"np3","t":"2020-12-20T15:00","v":5},{"s":"np3","t":"2020-12-21T00:00","v":2.4},{"s":"np3","t":"2020-12-21T09:00","v":17.9},{"s":"np3","t":"2020-12-21T15:00","v":8.3},{"s":"np3","t":"2020-12-22T00:00","v":4.8},{"s":"np3","t":"2020-12-22T09:00","v":16.7},{"s":"np3","t":"2020-12-22T18:00","v":8.3},{"s":"np3","t":"2020-12-23T00:00","v":20},{"s":"np3","t":"2020-12-23T09:00","v":8.3},{"s":"np3","t":"2020-12-23T15:00","v":12},{"s":"np3","t":"2020-12-24T00:00","v":3.6},{"s":"np3","t":"2020-12-24T06:00","v":6},{"s":"np3","t":"2020-12-24T12:00","v":33},{"s":"np3","t":"2020-12-24T18:00","v":10.7},{"s":"np3","t":"2020-12-25T00:00","v":6},{"s":"np3","t":"2020-12-25T12:00","v":12},{"s":"np3","t":"2020-12-25T18:00","v":3.6},{"s":"np3","t":"2020-12-26T03:00","v":6},{"s":"np3","t":"2020-12-26T12:00","v":8.3},{"s":"np3","t":"2020-12-26T21:00","v":3.6},{"s":"np3","t":"2020-12-27T09:00","v":1.2},{"s":"np3","t":"2020-12-27T18:00","v":0.7},{"s":"np3","t":"2020-12-28T03:00","v":1.2},{"s":"np3","t":"2020-12-28T12:00","v":12},{"s":"np3","t":"2020-12-28T18:00","v":2.4},{"s":"np3","t":"2020-12-29T03:00","v":0},{"s":"np3","t":"2020-12-30T00:00","v":0},{"s":"np3","t":"2020-12-30T18:00","v":0.7},{"s":"np3","t":"2020-12-31T12:00","v":2.4},{"s":"np3","t":"2021-01-01T00:00","v":0.7},{"s":"np3","t":"2021-01-01T21:00","v":0},{"s":"np3","t":"2021-01-02T12:00","v":3.6},{"s":"np3","t":"2021-01-02T21:00","v":2.4},{"s":"np3","t":"2021-01-03T03:00","v":1.2},{"s":"np3","t":"2021-01-03T09:00","v":0},
{"s":"aro","t":"2020-11-28T00:00","v":2},{"s":"aro","t":"2020-11-28T09:00","v":6},{"s":"aro","t":"2020-11-28T18:00","v":3},{"s":"aro","t":"2020-11-29T03:00","v":2},{"s":"aro","t":"2020-11-29T12:00","v":21},{"s":"aro","t":"2020-11-29T18:00","v":6},{"s":"aro","t":"2020-11-30T03:00","v":3},{"s":"aro","t":"2020-11-30T09:00","v":16},{"s":"aro","t":"2020-11-30T15:00","v":6},{"s":"aro","t":"2020-12-01T00:00","v":2},{"s":"aro","t":"2020-12-01T09:00","v":11},{"s":"aro","t":"2020-12-01T15:00","v":25},{"s":"aro","t":"2020-12-01T18:00","v":6},{"s":"aro","t":"2020-12-02T06:00","v":2},{"s":"aro","t":"2020-12-03T00:00","v":2},{"s":"aro","t":"2020-12-03T09:00","v":6},{"s":"aro","t":"2020-12-03T21:00","v":3},{"s":"aro","t":"2020-12-04T12:00","v":11},{"s":"aro","t":"2020-12-04T18:00","v":6},{"s":"aro","t":"2020-12-05T03:00","v":3},{"s":"aro","t":"2020-12-05T12:00","v":21},{"s":"aro","t":"2020-12-05T21:00","v":8},{"s":"aro","t":"2020-12-06T06:00","v":2},{"s":"aro","t":"2020-12-06T12:00","v":92},{"s":"aro","t":"2020-12-06T15:00","v":60},{"s":"aro","t":"2020-12-06T18:00","v":40},{"s":"aro","t":"2020-12-07T00:00","v":6},{"s":"aro","t":"2020-12-07T06:00","v":2},{"s":"aro","t":"2020-12-07T15:00","v":6},{"s":"aro","t":"2020-12-08T00:00","v":2},{"s":"aro","t":"2020-12-08T12:00","v":16},{"s":"aro","t":"2020-12-09T00:00","v":3},{"s":"aro","t":"2020-12-09T12:00","v":25},{"s":"aro","t":"2020-12-09T21:00","v":9},{"s":"aro","t":"2020-12-10T06:00","v":6},{"s":"aro","t":"2020-12-10T15:00","v":16},{"s":"aro","t":"2020-12-10T21:00","v":4},{"s":"aro","t":"2020-12-11T06:00","v":6},{"s":"aro","t":"2020-12-11T15:00","v":2},{"s":"aro","t":"2020-12-12T09:00","v":2},{"s":"aro","t":"2020-12-12T15:00","v":6},{"s":"aro","t":"2020-12-12T21:00","v":2},{"s":"aro","t":"2020-12-13T06:00","v":2},{"s":"aro","t":"2020-12-13T09:00","v":44},{"s":"aro","t":"2020-12-13T15:00","v":9},{"s":"aro","t":"2020-12-14T00:00","v":2},{"s":"aro","t":"2020-12-14T15:00","v":6},{"s":"aro","t":"2020-12-15T00:00","v":2},{"s":"aro","t":"2020-12-15T12:00","v":8},{"s":"aro","t":"2020-12-15T21:00","v":2},{"s":"aro","t":"2020-12-16T12:00","v":16},{"s":"aro","t":"2020-12-16T18:00","v":3},{"s":"aro","t":"2020-12-17T06:00","v":2},{"s":"aro","t":"2020-12-17T15:00","v":25},{"s":"aro","t":"2020-12-18T00:00","v":6},{"s":"aro","t":"2020-12-18T15:00","v":12.5},{"s":"aro","t":"2020-12-18T21:00","v":3},{"s":"aro","t":"2020-12-19T12:00","v":19},{"s":"aro","t":"2020-12-19T18:00","v":3},{"s":"aro","t":"2020-12-20T06:00","v":6},{"s":"aro","t":"2020-12-20T12:00","v":19},{"s":"aro","t":"2020-12-20T18:00","v":2},{"s":"aro","t":"2020-12-21T09:00","v":2},{"s":"aro","t":"2020-12-21T15:00","v":16},{"s":"aro","t":"2020-12-22T00:00","v":2},{"s":"aro","t":"2020-12-22T12:00","v":25},{"s":"aro","t":"2020-12-22T21:00","v":9},{"s":"aro","t":"2020-12-23T03:00","v":12.5},{"s":"aro","t":"2020-12-23T09:00","v":40},{"s":"aro","t":"2020-12-23T12:00","v":70},{"s":"aro","t":"2020-12-23T15:00","v":30},{"s":"aro","t":"2020-12-23T18:00","v":9},{"s":"aro","t":"2020-12-24T03:00","v":2},{"s":"aro","t":"2020-12-24T12:00","v":47},{"s":"aro","t":"2020-12-24T15:00","v":6},{"s":"aro","t":"2020-12-25T00:00","v":2},{"s":"aro","t":"2020-12-25T12:00","v":40},{"s":"aro","t":"2020-12-25T18:00","v":9},{"s":"aro","t":"2020-12-26T03:00","v":2},{"s":"aro","t":"2020-12-26T12:00","v":37},{"s":"aro","t":"2020-12-26T21:00","v":12.5},{"s":"aro","t":"2020-12-27T03:00","v":4},{"s":"aro","t":"2020-12-27T12:00","v":22},{"s":"aro","t":"2020-12-27T18:00","v":2},{"s":"aro","t":"2020-12-28T09:00","v":6},{"s":"aro","t":"2020-12-28T15:00","v":47},{"s":"aro","t":"2020-12-28T21:00","v":28},{"s":"aro","t":"2020-12-29T03:00","v":3},{"s":"aro","t":"2020-12-29T15:00","v":2},{"s":"aro","t":"2020-12-31T06:00","v":2},{"s":"aro","t":"2020-12-31T15:00","v":9},{"s":"aro","t":"2021-01-01T00:00","v":2},{"s":"aro","t":"2021-01-02T06:00","v":2},{"s":"aro","t":"2021-01-02T15:00","v":22},{"s":"aro","t":"2021-01-02T21:00","v":12.5},{"s":"aro","t":"2021-01-03T06:00","v":2},{"s":"aro","t":"2021-01-03T09:00","v":12.5},
{"s":"al2","t":"2020-11-28T00:00","v":10},{"s":"al2","t":"2020-11-28T09:00","v":8.6},{"s":"al2","t":"2020-11-28T12:00","v":10.8},{"s":"al2","t":"2020-11-28T21:00","v":1.5},{"s":"al2","t":"2020-11-29T03:00","v":3},{"s":"al2","t":"2020-11-29T12:00","v":6.8},{"s":"al2","t":"2020-11-29T18:00","v":1.5},{"s":"al2","t":"2020-11-30T00:00","v":6},{"s":"al2","t":"2020-11-30T09:00","v":18.5},{"s":"al2","t":"2020-11-30T12:00","v":9},{"s":"al2","t":"2020-11-30T21:00","v":27.7},{"s":"al2","t":"2020-12-01T03:00","v":24.6},{"s":"al2","t":"2020-12-01T12:00","v":15.4},{"s":"al2","t":"2020-12-01T18:00","v":18.5},{"s":"al2","t":"2020-12-02T03:00","v":13.8},{"s":"al2","t":"2020-12-02T09:00","v":3},{"s":"al2","t":"2020-12-03T00:00","v":3.7},{"s":"al2","t":"2020-12-03T15:00","v":8.6},{"s":"al2","t":"2020-12-04T00:00","v":3},{"s":"al2","t":"2020-12-04T12:00","v":1.5},{"s":"al2","t":"2020-12-04T21:00","v":7.7},{"s":"al2","t":"2020-12-05T12:00","v":9.2},{"s":"al2","t":"2020-12-06T00:00","v":6},{"s":"al2","t":"2020-12-06T15:00","v":12.3},{"s":"al2","t":"2020-12-06T18:00","v":6},{"s":"al2","t":"2020-12-07T06:00","v":26},{"s":"al2","t":"2020-12-07T15:00","v":20},{"s":"al2","t":"2020-12-08T00:00","v":27.7},{"s":"al2","t":"2020-12-08T09:00","v":15.4},{"s":"al2","t":"2020-12-08T21:00","v":20},{"s":"al2","t":"2020-12-09T09:00","v":7.7},{"s":"al2","t":"2020-12-09T18:00","v":6},{"s":"al2","t":"2020-12-10T03:00","v":13.8},{"s":"al2","t":"2020-12-10T12:00","v":3},{"s":"al2","t":"2020-12-11T00:00","v":1.5},{"s":"al2","t":"2020-12-11T06:00","v":7.7},{"s":"al2","t":"2020-12-11T21:00","v":15.4},{"s":"al2","t":"2020-12-12T03:00","v":10.8},{"s":"al2","t":"2020-12-12T12:00","v":23},{"s":"al2","t":"2020-12-12T18:00","v":17},{"s":"al2","t":"2020-12-13T03:00","v":18.5},{"s":"al2","t":"2020-12-13T12:00","v":44.6},{"s":"al2","t":"2020-12-13T15:00","v":6},{"s":"al2","t":"2020-12-14T00:00","v":4.6},{"s":"al2","t":"2020-12-14T12:00","v":1.5},{"s":"al2","t":"2020-12-15T06:00","v":0.6},{"s":"al2","t":"2020-12-16T03:00","v":1.5},{"s":"al2","t":"2020-12-16T18:00","v":6},{"s":"al2","t":"2020-12-17T09:00","v":4.6},{"s":"al2","t":"2020-12-17T21:00","v":10.8},{"s":"al2","t":"2020-12-18T12:00","v":24.6},{"s":"al2","t":"2020-12-18T18:00","v":10.8},{"s":"al2","t":"2020-12-18T21:00","v":18.5},{"s":"al2","t":"2020-12-19T09:00","v":9},{"s":"al2","t":"2020-12-19T15:00","v":12.3},{"s":"al2","t":"2020-12-20T03:00","v":3},{"s":"al2","t":"2020-12-20T15:00","v":1.5},{"s":"al2","t":"2020-12-21T00:00","v":4.6},{"s":"al2","t":"2020-12-21T15:00","v":12.3},{"s":"al2","t":"2020-12-22T00:00","v":4.6},{"s":"al2","t":"2020-12-22T09:00","v":12.3},{"s":"al2","t":"2020-12-22T18:00","v":1.5},{"s":"al2","t":"2020-12-23T00:00","v":21.5},{"s":"al2","t":"2020-12-23T06:00","v":27.7},{"s":"al2","t":"2020-12-23T12:00","v":18.5},{"s":"al2","t":"2020-12-23T21:00","v":10.8},{"s":"al2","t":"2020-12-24T09:00","v":27.7},{"s":"al2","t":"2020-12-24T15:00","v":32.3},{"s":"al2","t":"2020-12-24T21:00","v":27.7},{"s":"al2","t":"2020-12-25T03:00","v":15.4},{"s":"al2","t":"2020-12-25T12:00","v":6},{"s":"al2","t":"2020-12-25T21:00","v":6},{"s":"al2","t":"2020-12-26T06:00","v":23},{"s":"al2","t":"2020-12-26T12:00","v":6},{"s":"al2","t":"2020-12-26T21:00","v":7.7},{"s":"al2","t":"2020-12-27T06:00","v":18.5},{"s":"al2","t":"2020-12-27T12:00","v":15.4},{"s":"al2","t":"2020-12-27T18:00","v":1.5},{"s":"al2","t":"2020-12-28T03:00","v":6},{"s":"al2","t":"2020-12-28T12:00","v":6},{"s":"al2","t":"2020-12-29T00:00","v":26},{"s":"al2","t":"2020-12-29T06:00","v":10.8},{"s":"al2","t":"2020-12-29T15:00","v":1.5},{"s":"al2","t":"2020-12-31T00:00","v":1.5},{"s":"al2","t":"2021-01-01T09:00","v":4.6},{"s":"al2","t":"2021-01-02T06:00","v":1.5},{"s":"al2","t":"2021-01-02T12:00","v":12.3},{"s":"al2","t":"2021-01-02T18:00","v":7.7},{"s":"al2","t":"2021-01-02T21:00","v":17},{"s":"al2","t":"2021-01-03T03:00","v":18.5},{"s":"al2","t":"2021-01-03T09:00","v":21.5},
{"s":"o3a","t":"2020-11-28T00:00","v":12},{"s":"o3a","t":"2020-11-28T09:00","v":9},{"s":"o3a","t":"2020-11-28T12:00","v":15},{"s":"o3a","t":"2020-11-28T21:00","v":6},{"s":"o3a","t":"2020-11-29T06:00","v":9},{"s":"o3a","t":"2020-11-29T12:00","v":31},{"s":"o3a","t":"2020-11-29T18:00","v":25},{"s":"o3a","t":"2020-11-30T00:00","v":3},{"s":"o3a","t":"2020-11-30T06:00","v":9},{"s":"o3a","t":"2020-11-30T12:00","v":55},{"s":"o3a","t":"2020-11-30T18:00","v":43},{"s":"o3a","t":"2020-12-01T00:00","v":15},{"s":"o3a","t":"2020-12-01T12:00","v":28},{"s":"o3a","t":"2020-12-01T18:00","v":15},{"s":"o3a","t":"2020-12-02T06:00","v":3},{"s":"o3a","t":"2020-12-02T21:00","v":1},{"s":"o3a","t":"2020-12-03T06:00","v":4},{"s":"o3a","t":"2020-12-03T12:00","v":34},{"s":"o3a","t":"2020-12-03T21:00","v":6},{"s":"o3a","t":"2020-12-04T06:00","v":9},{"s":"o3a","t":"2020-12-04T12:00","v":18},{"s":"o3a","t":"2020-12-04T21:00","v":3},{"s":"o3a","t":"2020-12-05T09:00","v":25},{"s":"o3a","t":"2020-12-05T15:00","v":28},{"s":"o3a","t":"2020-12-05T21:00","v":3},{"s":"o3a","t":"2020-12-06T09:00","v":3},{"s":"o3a","t":"2020-12-06T15:00","v":89},{"s":"o3a","t":"2020-12-06T18:00","v":9},{"s":"o3a","t":"2020-12-07T06:00","v":3},{"s":"o3a","t":"2020-12-07T21:00","v":6},{"s":"o3a","t":"2020-12-08T12:00","v":12},{"s":"o3a","t":"2020-12-09T03:00","v":15},{"s":"o3a","t":"2020-12-09T12:00","v":15},{"s":"o3a","t":"2020-12-10T00:00","v":2},{"s":"o3a","t":"2020-12-10T12:00","v":22},{"s":"o3a","t":"2020-12-11T00:00","v":4},{"s":"o3a","t":"2020-12-11T15:00","v":18},{"s":"o3a","t":"2020-12-12T00:00","v":3},{"s":"o3a","t":"2020-12-12T12:00","v":40},{"s":"o3a","t":"2020-12-12T18:00","v":22},{"s":"o3a","t":"2020-12-13T03:00","v":6},{"s":"o3a","t":"2020-12-13T12:00","v":28},{"s":"o3a","t":"2020-12-13T15:00","v":3},{"s":"o3a","t":"2020-12-14T12:00","v":12},{"s":"o3a","t":"2020-12-14T21:00","v":2},{"s":"o3a","t":"2020-12-15T12:00","v":12},{"s":"o3a","t":"2020-12-16T03:00","v":3},{"s":"o3a","t":"2020-12-16T12:00","v":8},{"s":"o3a","t":"2020-12-17T03:00","v":3},{"s":"o3a","t":"2020-12-17T15:00","v":9},{"s":"o3a","t":"2020-12-18T03:00","v":4},{"s":"o3a","t":"2020-12-18T12:00","v":17},{"s":"o3a","t":"2020-12-18T21:00","v":4},{"s":"o3a","t":"2020-12-19T12:00","v":18},{"s":"o3a","t":"2020-12-20T00:00","v":5},{"s":"o3a","t":"2020-12-20T12:00","v":14},{"s":"o3a","t":"2020-12-21T00:00","v":6},{"s":"o3a","t":"2020-12-21T12:00","v":12},{"s":"o3a","t":"2020-12-22T00:00","v":8},{"s":"o3a","t":"2020-12-22T12:00","v":25},{"s":"o3a","t":"2020-12-22T21:00","v":18},{"s":"o3a","t":"2020-12-23T12:00","v":22},{"s":"o3a","t":"2020-12-23T21:00","v":3},{"s":"o3a","t":"2020-12-24T12:00","v":43},{"s":"o3a","t":"2020-12-24T21:00","v":15},{"s":"o3a","t":"2020-12-25T09:00","v":34},{"s":"o3a","t":"2020-12-25T18:00","v":9},{"s":"o3a","t":"2020-12-26T12:00","v":49},{"s":"o3a","t":"2020-12-26T21:00","v":15},{"s":"o3a","t":"2020-12-27T09:00","v":6},{"s":"o3a","t":"2020-12-27T18:00","v":12},{"s":"o3a","t":"2020-12-28T03:00","v":3},{"s":"o3a","t":"2020-12-28T12:00","v":77},{"s":"o3a","t":"2020-12-28T21:00","v":28},{"s":"o3a","t":"2020-12-29T03:00","v":2},{"s":"o3a","t":"2020-12-30T09:00","v":2},{"s":"o3a","t":"2020-12-31T12:00","v":6},{"s":"o3a","t":"2021-01-01T09:00","v":4},{"s":"o3a","t":"2021-01-02T15:00","v":4},{"s":"o3a","t":"2021-01-02T21:00","v":9},{"s":"o3a","t":"2021-01-03T09:00","v":4},
{"s":"al1","t":"2020-11-28T00:00","v":3},{"s":"al1","t":"2020-11-28T12:00","v":1.3},{"s":"al1","t":"2020-11-29T03:00","v":1.3},{"s":"al1","t":"2020-11-29T15:00","v":10},{"s":"al1","t":"2020-11-29T21:00","v":1.3},{"s":"al1","t":"2020-11-30T12:00","v":14},{"s":"al1","t":"2020-11-30T18:00","v":7.6},{"s":"al1","t":"2020-12-01T03:00","v":2},{"s":"al1","t":"2020-12-01T18:00","v":10},{"s":"al1","t":"2020-12-02T03:00","v":1.3},{"s":"al1","t":"2020-12-02T21:00","v":0.4},{"s":"al1","t":"2020-12-03T09:00","v":5.5},{"s":"al1","t":"2020-12-03T18:00","v":16},{"s":"al1","t":"2020-12-04T03:00","v":3.4},{"s":"al1","t":"2020-12-04T15:00","v":10},{"s":"al1","t":"2020-12-05T03:00","v":1.3},{"s":"al1","t":"2020-12-05T12:00","v":13},{"s":"al1","t":"2020-12-05T18:00","v":7.6},{"s":"al1","t":"2020-12-06T03:00","v":1.3},{"s":"al1","t":"2020-12-06T15:00","v":44},{"s":"al1","t":"2020-12-06T18:00","v":35},{"s":"al1","t":"2020-12-07T00:00","v":5.5},{"s":"al1","t":"2020-12-07T06:00","v":3.4},{"s":"al1","t":"2020-12-07T15:00","v":31},{"s":"al1","t":"2020-12-08T00:00","v":20},{"s":"al1","t":"2020-12-08T09:00","v":3.4},{"s":"al1","t":"2020-12-08T18:00","v":12},{"s":"al1","t":"2020-12-09T03:00","v":3.4},{"s":"al1","t":"2020-12-09T12:00","v":10},{"s":"al1","t":"2020-12-09T21:00","v":5.5},{"s":"al1","t":"2020-12-10T06:00","v":14},{"s":"al1","t":"2020-12-10T15:00","v":20},{"s":"al1","t":"2020-12-10T21:00","v":18},{"s":"al1","t":"2020-12-11T06:00","v":29},{"s":"al1","t":"2020-12-11T15:00","v":31},{"s":"al1","t":"2020-12-11T21:00","v":14},{"s":"al1","t":"2020-12-12T03:00","v":5.5},{"s":"al1","t":"2020-12-12T12:00","v":31},{"s":"al1","t":"2020-12-12T18:00","v":20},{"s":"al1","t":"2020-12-12T21:00","v":7.6},{"s":"al1","t":"2020-12-13T06:00","v":7.6},{"s":"al1","t":"2020-12-13T12:00","v":41},{"s":"al1","t":"2020-12-13T15:00","v":5.5},{"s":"al1","t":"2020-12-14T00:00","v":0.4},{"s":"al1","t":"2020-12-14T21:00","v":1.3},{"s":"al1","t":"2020-12-15T15:00","v":2},{"s":"al1","t":"2020-12-16T03:00","v":1.3},{"s":"al1","t":"2020-12-16T15:00","v":7.6},{"s":"al1","t":"2020-12-16T21:00","v":1.3},{"s":"al1","t":"2020-12-17T12:00","v":5.5},{"s":"al1","t":"2020-12-17T21:00","v":10},{"s":"al1","t":"2020-12-18T09:00","v":14},{"s":"al1","t":"2020-12-18T21:00","v":20},{"s":"al1","t":"2020-12-19T03:00","v":10},{"s":"al1","t":"2020-12-19T12:00","v":14},{"s":"al1","t":"2020-12-19T18:00","v":2},{"s":"al1","t":"2020-12-20T03:00","v":1.3},{"s":"al1","t":"2020-12-20T18:00","v":7.6},{"s":"al1","t":"2020-12-21T00:00","v":1.3},{"s":"al1","t":"2020-12-21T15:00","v":7.6},{"s":"al1","t":"2020-12-22T00:00","v":1.3},{"s":"al1","t":"2020-12-22T12:00","v":6.4},{"s":"al1","t":"2020-12-22T21:00","v":16},{"s":"al1","t":"2020-12-23T03:00","v":12},{"s":"al1","t":"2020-12-23T12:00","v":32},{"s":"al1","t":"2020-12-23T21:00","v":10},{"s":"al1","t":"2020-12-24T03:00","v":7.6},{"s":"al1","t":"2020-12-24T12:00","v":41},{"s":"al1","t":"2020-12-24T18:00","v":29},{"s":"al1","t":"2020-12-25T00:00","v":10},{"s":"al1","t":"2020-12-25T12:00","v":5.5},{"s":"al1","t":"2020-12-25T15:00","v":27},{"s":"al1","t":"2020-12-26T00:00","v":10},{"s":"al1","t":"2020-12-26T12:00","v":33},{"s":"al1","t":"2020-12-26T21:00","v":20},{"s":"al1","t":"2020-12-27T06:00","v":14},{"s":"al1","t":"2020-12-27T12:00","v":25},{"s":"al1","t":"2020-12-27T18:00","v":5.5},{"s":"al1","t":"2020-12-28T09:00","v":12},{"s":"al1","t":"2020-12-28T15:00","v":57},{"s":"al1","t":"2020-12-28T21:00","v":44},{"s":"al1","t":"2020-12-29T00:00","v":27},{"s":"al1","t":"2020-12-29T09:00","v":5.5},{"s":"al1","t":"2020-12-29T18:00","v":1.3},{"s":"al1","t":"2020-12-30T18:00","v":2},{"s":"al1","t":"2021-01-01T00:00","v":1.3},{"s":"al1","t":"2021-01-01T21:00","v":1.3},{"s":"al1","t":"2021-01-02T12:00","v":7.6},{"s":"al1","t":"2021-01-02T21:00","v":10},{"s":"al1","t":"2021-01-03T03:00","v":5.5},{"s":"al1","t":"2021-01-03T09:00","v":9}
]},
"vconcat": [
{"height": 48, "width": 594, "transform": [{"filter": "datum.s == 'np2'"}],
 "encoding": {"x": {"field": "t", "type": "temporal", "scale": {"domain": [{"year": 2020, "month": 11, "date": 28, "hours": 0}, {"year": 2021, "month": 1, "date": 3, "hours": 9}]}, "axis": {"orient": "top", "offset": 9, "ticks": false, "labels": false, "title": "(a)", "titleAngle": 0, "titleAlign": "left", "titleBaseline": "middle", "titleX": -99, "titleY": -1, "titleFontSize": 21, "titleFontWeight": "bold"}}},
 "layer": [
  {"mark": {"type": "line", "color": "#e0201c", "strokeWidth": 1.8, "clip": true},
   "encoding": {"y": {"field": "v", "type": "quantitative", "scale": {"domain": [0, 67], "nice": false}, "axis": {"orient": "left", "offset": 9, "values": [0, 50], "tickSize": 10, "labelFontSize": 18, "labelPadding": 5, "title": null}}}},
  {"mark": {"type": "line", "opacity": 0},
   "encoding": {"y": {"field": "v", "type": "quantitative", "scale": {"domain": [0, 67], "nice": false}, "axis": {"orient": "right", "offset": 6, "ticks": false, "labels": false, "title": "NP II", "titleAngle": 0, "titleAlign": "left", "titleBaseline": "middle", "titleX": 22, "titleY": 27, "titleFontSize": 24, "titleFontWeight": "bold"}}}},
  {"mark": {"type": "line", "opacity": 0},
   "encoding": {"y": {"field": "v", "type": "quantitative", "scale": {"domain": [0, 67], "nice": false}, "axis": {"orient": "left", "offset": 4, "values": [10, 20, 30, 40, 60], "tickSize": 5, "labels": false, "domain": false, "title": null}}}}
 ],
 "resolve": {"axis": {"y": "independent"}}},
{"height": 48, "width": 594, "transform": [{"filter": "datum.s == 'mix'"}],
 "encoding": {"x": {"field": "t", "type": "temporal", "scale": {"domain": [{"year": 2020, "month": 11, "date": 28, "hours": 0}, {"year": 2021, "month": 1, "date": 3, "hours": 9}]}, "axis": null}},
 "layer": [
  {"mark": {"type": "line", "color": "#f2a531", "strokeWidth": 1.8, "clip": true},
   "encoding": {"y": {"field": "v", "type": "quantitative", "scale": {"domain": [0, 38.7], "nice": false}, "axis": {"orient": "left", "offset": 9, "values": [0, 25], "tickSize": 10, "labelFontSize": 18, "labelPadding": 5, "title": null}}}},
  {"mark": {"type": "line", "opacity": 0},
   "encoding": {"y": {"field": "v", "type": "quantitative", "scale": {"domain": [0, 38.7], "nice": false}, "axis": {"orient": "right", "offset": 6, "ticks": false, "labels": false, "title": "Mixed-OOM", "titleAngle": 0, "titleAlign": "left", "titleBaseline": "middle", "titleX": 22, "titleY": 23, "titleFontSize": 24, "titleFontWeight": "bold"}}}},
  {"mark": {"type": "line", "opacity": 0},
   "encoding": {"y": {"field": "v", "type": "quantitative", "scale": {"domain": [0, 38.7], "nice": false}, "axis": {"orient": "left", "offset": 4, "values": [5, 10, 15, 20, 30, 35], "tickSize": 5, "labels": false, "domain": false, "title": null}}}}
 ],
 "resolve": {"axis": {"y": "independent"}}},
{"height": 48, "width": 594, "transform": [{"filter": "datum.s == 'o3b'"}],
 "encoding": {"x": {"field": "t", "type": "temporal", "scale": {"domain": [{"year": 2020, "month": 11, "date": 28, "hours": 0}, {"year": 2021, "month": 1, "date": 3, "hours": 9}]}, "axis": null}},
 "layer": [
  {"mark": {"type": "line", "color": "#84e83a", "strokeWidth": 1.8, "clip": true},
   "encoding": {"y": {"field": "v", "type": "quantitative", "scale": {"domain": [0, 65], "nice": false}, "axis": {"orient": "left", "offset": 9, "values": [0, 50], "tickSize": 10, "labelFontSize": 18, "labelPadding": 5, "title": null}}}},
  {"mark": {"type": "line", "opacity": 0},
   "encoding": {"y": {"field": "v", "type": "quantitative", "scale": {"domain": [0, 65], "nice": false}, "axis": {"orient": "right", "offset": 6, "ticks": false, "labels": false, "title": "O₃-related II", "titleAngle": 0, "titleAlign": "left", "titleBaseline": "middle", "titleX": 22, "titleY": 23, "titleFontSize": 24, "titleFontWeight": "bold"}}}},
  {"mark": {"type": "line", "opacity": 0},
   "encoding": {"y": {"field": "v", "type": "quantitative", "scale": {"domain": [0, 65], "nice": false}, "axis": {"orient": "left", "offset": 4, "values": [10, 20, 30, 40, 60], "tickSize": 5, "labels": false, "domain": false, "title": null}}}}
 ],
 "resolve": {"axis": {"y": "independent"}}},
{"height": 48, "width": 594, "transform": [{"filter": "datum.s == 'np4'"}],
 "encoding": {"x": {"field": "t", "type": "temporal", "scale": {"domain": [{"year": 2020, "month": 11, "date": 28, "hours": 0}, {"year": 2021, "month": 1, "date": 3, "hours": 9}]}, "axis": null}},
 "layer": [
  {"mark": {"type": "line", "color": "#3de68f", "strokeWidth": 1.8, "clip": true},
   "encoding": {"y": {"field": "v", "type": "quantitative", "scale": {"domain": [0, 91], "nice": false}, "axis": {"orient": "left", "offset": 9, "values": [0, 40, 80], "tickSize": 10, "labelFontSize": 18, "labelPadding": 5, "title": null}}}},
  {"mark": {"type": "line", "opacity": 0},
   "encoding": {"y": {"field": "v", "type": "quantitative", "scale": {"domain": [0, 91], "nice": false}, "axis": {"orient": "right", "offset": 6, "ticks": false, "labels": false, "title": "NP IV", "titleAngle": 0, "titleAlign": "left", "titleBaseline": "middle", "titleX": 22, "titleY": 23, "titleFontSize": 24, "titleFontWeight": "bold"}}}},
  {"mark": {"type": "line", "opacity": 0},
   "encoding": {"y": {"field": "v", "type": "quantitative", "scale": {"domain": [0, 91], "nice": false}, "axis": {"orient": "left", "offset": 4, "values": [20, 60], "tickSize": 5, "labels": false, "domain": false, "title": null}}}}
 ],
 "resolve": {"axis": {"y": "independent"}}},
{"height": 48, "width": 594, "transform": [{"filter": "datum.s == 'fc1'"}],
 "encoding": {"x": {"field": "t", "type": "temporal", "scale": {"domain": [{"year": 2020, "month": 11, "date": 28, "hours": 0}, {"year": 2021, "month": 1, "date": 3, "hours": 9}]}, "axis": null}},
 "layer": [
  {"mark": {"type": "line", "color": "#31a8e0", "strokeWidth": 1.8, "clip": true},
   "encoding": {"y": {"field": "v", "type": "quantitative", "scale": {"domain": [0, 14.5], "nice": false}, "axis": {"orient": "left", "offset": 9, "values": [0, 10], "tickSize": 10, "labelFontSize": 18, "labelPadding": 5, "title": null}}}},
  {"mark": {"type": "line", "opacity": 0},
   "encoding": {"y": {"field": "v", "type": "quantitative", "scale": {"domain": [0, 14.5], "nice": false}, "axis": {"orient": "right", "offset": 6, "ticks": false, "labels": false, "title": "F-contamination I", "titleAngle": 0, "titleAlign": "left", "titleBaseline": "middle", "titleX": 22, "titleY": 23, "titleFontSize": 24, "titleFontWeight": "bold"}}}},
  {"mark": {"type": "line", "opacity": 0},
   "encoding": {"y": {"field": "v", "type": "quantitative", "scale": {"domain": [0, 14.5], "nice": false}, "axis": {"orient": "left", "offset": 4, "values": [2, 4, 6, 8, 12, 14], "tickSize": 5, "labels": false, "domain": false, "title": null}}}}
 ],
 "resolve": {"axis": {"y": "independent"}}},
{"height": 48, "width": 594, "transform": [{"filter": "datum.s == 'fc2'"}],
 "encoding": {"x": {"field": "t", "type": "temporal", "scale": {"domain": [{"year": 2020, "month": 11, "date": 28, "hours": 0}, {"year": 2021, "month": 1, "date": 3, "hours": 9}]}, "axis": null}},
 "layer": [
  {"mark": {"type": "line", "color": "#1c1cc4", "strokeWidth": 1.8, "clip": true},
   "encoding": {"y": {"field": "v", "type": "quantitative", "scale": {"domain": [0, 16], "nice": false}, "axis": {"orient": "left", "offset": 9, "values": [0, 10], "tickSize": 10, "labelFontSize": 18, "labelPadding": 5, "title": null}}}},
  {"mark": {"type": "line", "opacity": 0},
   "encoding": {"y": {"field": "v", "type": "quantitative", "scale": {"domain": [0, 16], "nice": false}, "axis": {"orient": "right", "offset": 6, "ticks": false, "labels": false, "title": "F-contamination II", "titleAngle": 0, "titleAlign": "left", "titleBaseline": "middle", "titleX": 22, "titleY": 23, "titleFontSize": 24, "titleFontWeight": "bold"}}}},
  {"mark": {"type": "line", "opacity": 0},
   "encoding": {"y": {"field": "v", "type": "quantitative", "scale": {"domain": [0, 16], "nice": false}, "axis": {"orient": "left", "offset": 4, "values": [2, 4, 6, 8, 12, 14], "tickSize": 5, "labels": false, "domain": false, "title": null}}}}
 ],
 "resolve": {"axis": {"y": "independent"}}},
{"height": 48, "width": 594, "transform": [{"filter": "datum.s == 'np1'"}],
 "encoding": {"x": {"field": "t", "type": "temporal", "scale": {"domain": [{"year": 2020, "month": 11, "date": 28, "hours": 0}, {"year": 2021, "month": 1, "date": 3, "hours": 9}]}, "axis": null}},
 "layer": [
  {"mark": {"type": "line", "color": "#e21fc8", "strokeWidth": 1.8, "clip": true},
   "encoding": {"y": {"field": "v", "type": "quantitative", "scale": {"domain": [0, 45], "nice": false}, "axis": {"orient": "left", "offset": 9, "values": [0, 20, 40], "tickSize": 10, "labelFontSize": 18, "labelPadding": 5, "title": "Concentration (×10⁶ cm⁻³)", "titleFontSize": 26, "titleFontWeight": "normal", "titleAngle": -90, "titleAlign": "center", "titleBaseline": "middle", "titleX": -71, "titleY": 11}}}},
  {"mark": {"type": "line", "opacity": 0},
   "encoding": {"y": {"field": "v", "type": "quantitative", "scale": {"domain": [0, 45], "nice": false}, "axis": {"orient": "right", "offset": 6, "ticks": false, "labels": false, "title": "NP I", "titleAngle": 0, "titleAlign": "left", "titleBaseline": "middle", "titleX": 22, "titleY": 25, "titleFontSize": 24, "titleFontWeight": "bold"}}}},
  {"mark": {"type": "line", "opacity": 0},
   "encoding": {"y": {"field": "v", "type": "quantitative", "scale": {"domain": [0, 45], "nice": false}, "axis": {"orient": "left", "offset": 4, "values": [10, 30], "tickSize": 5, "labels": false, "domain": false, "title": null}}}}
 ],
 "resolve": {"axis": {"y": "independent"}}},
{"height": 48, "width": 594, "transform": [{"filter": "datum.s == 'mt'"}],
 "encoding": {"x": {"field": "t", "type": "temporal", "scale": {"domain": [{"year": 2020, "month": 11, "date": 28, "hours": 0}, {"year": 2021, "month": 1, "date": 3, "hours": 9}]}, "axis": null}},
 "layer": [
  {"mark": {"type": "line", "color": "#bdbdbd", "strokeWidth": 1.8, "clip": true},
   "encoding": {"y": {"field": "v", "type": "quantitative", "scale": {"domain": [0, 32.4], "nice": false}, "axis": {"orient": "left", "offset": 9, "values": [0, 25], "tickSize": 10, "labelFontSize": 18, "labelPadding": 5, "title": null}}}},
  {"mark": {"type": "line", "opacity": 0},
   "encoding": {"y": {"field": "v", "type": "quantitative", "scale": {"domain": [0, 32.4], "nice": false}, "axis": {"orient": "right", "offset": 6, "ticks": false, "labels": false, "title": "MT-mixed-OOM", "titleAngle": 0, "titleAlign": "left", "titleBaseline": "middle", "titleX": 22, "titleY": 23, "titleFontSize": 24, "titleFontWeight": "bold"}}}},
  {"mark": {"type": "line", "opacity": 0},
   "encoding": {"y": {"field": "v", "type": "quantitative", "scale": {"domain": [0, 32.4], "nice": false}, "axis": {"orient": "left", "offset": 4, "values": [5, 10, 15, 20, 30], "tickSize": 5, "labels": false, "domain": false, "title": null}}}}
 ],
 "resolve": {"axis": {"y": "independent"}}},
{"height": 48, "width": 594, "transform": [{"filter": "datum.s == 'np3'"}],
 "encoding": {"x": {"field": "t", "type": "temporal", "scale": {"domain": [{"year": 2020, "month": 11, "date": 28, "hours": 0}, {"year": 2021, "month": 1, "date": 3, "hours": 9}]}, "axis": null}},
 "layer": [
  {"mark": {"type": "line", "color": "#b51515", "strokeWidth": 1.8, "clip": true},
   "encoding": {"y": {"field": "v", "type": "quantitative", "scale": {"domain": [0, 34.3], "nice": false}, "axis": {"orient": "left", "offset": 9, "values": [0, 25], "tickSize": 10, "labelFontSize": 18, "labelPadding": 5, "title": null}}}},
  {"mark": {"type": "line", "opacity": 0},
   "encoding": {"y": {"field": "v", "type": "quantitative", "scale": {"domain": [0, 34.3], "nice": false}, "axis": {"orient": "right", "offset": 6, "ticks": false, "labels": false, "title": "NP III", "titleAngle": 0, "titleAlign": "left", "titleBaseline": "middle", "titleX": 22, "titleY": 23, "titleFontSize": 24, "titleFontWeight": "bold"}}}},
  {"mark": {"type": "line", "opacity": 0},
   "encoding": {"y": {"field": "v", "type": "quantitative", "scale": {"domain": [0, 34.3], "nice": false}, "axis": {"orient": "left", "offset": 4, "values": [5, 10, 15, 20, 30], "tickSize": 5, "labels": false, "domain": false, "title": null}}}}
 ],
 "resolve": {"axis": {"y": "independent"}}},
{"height": 48, "width": 594, "transform": [{"filter": "datum.s == 'aro'"}],
 "encoding": {"x": {"field": "t", "type": "temporal", "scale": {"domain": [{"year": 2020, "month": 11, "date": 28, "hours": 0}, {"year": 2021, "month": 1, "date": 3, "hours": 9}]}, "axis": null}},
 "layer": [
  {"mark": {"type": "line", "color": "#d28e1e", "strokeWidth": 1.8, "clip": true},
   "encoding": {"y": {"field": "v", "type": "quantitative", "scale": {"domain": [0, 91.4], "nice": false}, "axis": {"orient": "left", "offset": 9, "values": [0, 40, 80], "tickSize": 10, "labelFontSize": 18, "labelPadding": 5, "title": null}}}},
  {"mark": {"type": "line", "opacity": 0},
   "encoding": {"y": {"field": "v", "type": "quantitative", "scale": {"domain": [0, 91.4], "nice": false}, "axis": {"orient": "right", "offset": 6, "ticks": false, "labels": false, "title": "Arom-OOM", "titleAngle": 0, "titleAlign": "left", "titleBaseline": "middle", "titleX": 22, "titleY": 23, "titleFontSize": 24, "titleFontWeight": "bold"}}}},
  {"mark": {"type": "line", "opacity": 0},
   "encoding": {"y": {"field": "v", "type": "quantitative", "scale": {"domain": [0, 91.4], "nice": false}, "axis": {"orient": "left", "offset": 4, "values": [20, 60], "tickSize": 5, "labels": false, "domain": false, "title": null}}}}
 ],
 "resolve": {"axis": {"y": "independent"}}},
{"height": 48, "width": 594, "transform": [{"filter": "datum.s == 'al2'"}],
 "encoding": {"x": {"field": "t", "type": "temporal", "scale": {"domain": [{"year": 2020, "month": 11, "date": 28, "hours": 0}, {"year": 2021, "month": 1, "date": 3, "hours": 9}]}, "axis": null}},
 "layer": [
  {"mark": {"type": "line", "color": "#72c52a", "strokeWidth": 1.8, "clip": true},
   "encoding": {"y": {"field": "v", "type": "quantitative", "scale": {"domain": [0, 45], "nice": false}, "axis": {"orient": "left", "offset": 9, "values": [0, 20, 40], "tickSize": 10, "labelFontSize": 18, "labelPadding": 5, "title": null}}}},
  {"mark": {"type": "line", "opacity": 0},
   "encoding": {"y": {"field": "v", "type": "quantitative", "scale": {"domain": [0, 45], "nice": false}, "axis": {"orient": "right", "offset": 6, "ticks": false, "labels": false, "title": "Aliph-OOM II", "titleAngle": 0, "titleAlign": "left", "titleBaseline": "middle", "titleX": 22, "titleY": 23, "titleFontSize": 24, "titleFontWeight": "bold"}}}},
  {"mark": {"type": "line", "opacity": 0},
   "encoding": {"y": {"field": "v", "type": "quantitative", "scale": {"domain": [0, 45], "nice": false}, "axis": {"orient": "left", "offset": 4, "values": [10, 30], "tickSize": 5, "labels": false, "domain": false, "title": null}}}}
 ],
 "resolve": {"axis": {"y": "independent"}}},
{"height": 48, "width": 594, "transform": [{"filter": "datum.s == 'o3a'"}],
 "encoding": {"x": {"field": "t", "type": "temporal", "scale": {"domain": [{"year": 2020, "month": 11, "date": 28, "hours": 0}, {"year": 2021, "month": 1, "date": 3, "hours": 9}]}, "axis": null}},
 "layer": [
  {"mark": {"type": "line", "color": "#27c084", "strokeWidth": 1.8, "clip": true},
   "encoding": {"y": {"field": "v", "type": "quantitative", "scale": {"domain": [0, 90], "nice": false}, "axis": {"orient": "left", "offset": 9, "values": [0, 40, 80], "tickSize": 10, "labelFontSize": 18, "labelPadding": 5, "title": null}}}},
  {"mark": {"type": "line", "opacity": 0},
   "encoding": {"y": {"field": "v", "type": "quantitative", "scale": {"domain": [0, 90], "nice": false}, "axis": {"orient": "right", "offset": 6, "ticks": false, "labels": false, "title": "O₃-related I", "titleAngle": 0, "titleAlign": "left", "titleBaseline": "middle", "titleX": 22, "titleY": 23, "titleFontSize": 24, "titleFontWeight": "bold"}}}},
  {"mark": {"type": "line", "opacity": 0},
   "encoding": {"y": {"field": "v", "type": "quantitative", "scale": {"domain": [0, 90], "nice": false}, "axis": {"orient": "left", "offset": 4, "values": [20, 60], "tickSize": 5, "labels": false, "domain": false, "title": null}}}}
 ],
 "resolve": {"axis": {"y": "independent"}}},
{"height": 48, "width": 594, "transform": [{"filter": "datum.s == 'al1'"}],
 "encoding": {"x": {"field": "t", "type": "temporal", "scale": {"domain": [{"year": 2020, "month": 11, "date": 28, "hours": 0}, {"year": 2021, "month": 1, "date": 3, "hours": 9}]}, "axis": {"orient": "bottom", "offset": 9, "values": [{"year": 2020, "month": 12, "date": 4}, {"year": 2020, "month": 12, "date": 11}, {"year": 2020, "month": 12, "date": 18}, {"year": 2020, "month": 12, "date": 25}, {"year": 2021, "month": 1, "date": 1}], "format": "%Y/%-m/%-d", "tickSize": 12, "labelFontSize": 19, "labelPadding": 9, "title": null}}},
 "layer": [
  {"mark": {"type": "line", "color": "#2a86c2", "strokeWidth": 1.8, "clip": true},
   "encoding": {"y": {"field": "v", "type": "quantitative", "scale": {"domain": [0, 60], "nice": false}, "axis": {"orient": "left", "offset": 9, "values": [0, 50], "tickSize": 10, "labelFontSize": 18, "labelPadding": 5, "title": null}}}},
  {"mark": {"type": "line", "opacity": 0},
   "encoding": {"y": {"field": "v", "type": "quantitative", "scale": {"domain": [0, 60], "nice": false}, "axis": {"orient": "right", "offset": 6, "ticks": false, "labels": false, "title": "Aliph-OOM I", "titleAngle": 0, "titleAlign": "left", "titleBaseline": "middle", "titleX": 22, "titleY": 23, "titleFontSize": 24, "titleFontWeight": "bold"}}}},
  {"mark": {"type": "line", "opacity": 0},
   "encoding": {"y": {"field": "v", "type": "quantitative", "scale": {"domain": [0, 60], "nice": false}, "axis": {"orient": "left", "offset": 4, "values": [10, 20, 30, 40], "tickSize": 5, "labels": false, "domain": false, "title": null}}}}
 ],
 "resolve": {"axis": {"y": "independent"}}}
]
}
